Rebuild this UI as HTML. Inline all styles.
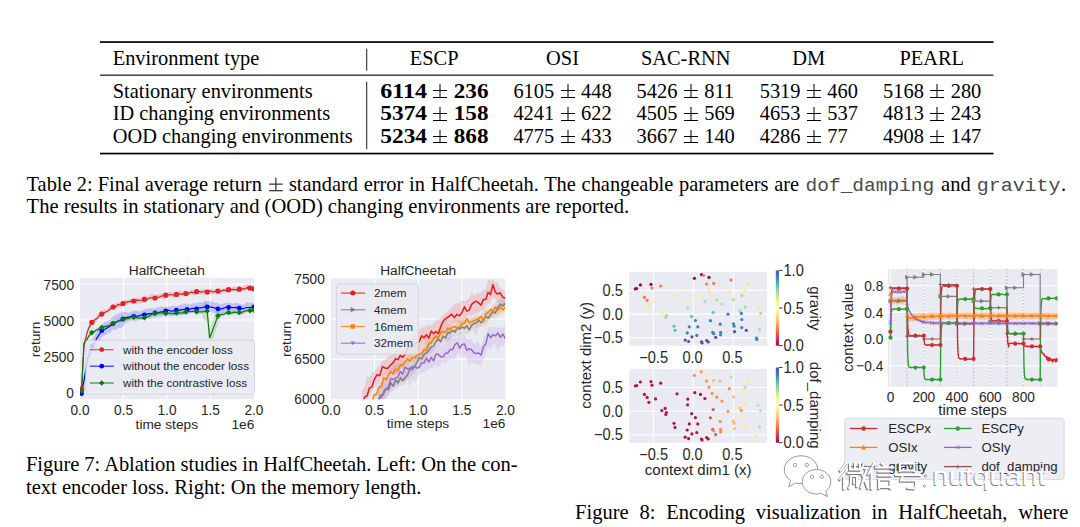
<!DOCTYPE html><html><head><meta charset="utf-8"><style>html,body{margin:0;padding:0;background:#fff;width:1080px;height:527px;overflow:hidden}svg{display:block}</style></head><body>
<svg width="1080" height="527" viewBox="0 0 1080 527">
<rect x="0" y="0" width="1080" height="527" fill="#fff"/>
<g font-family='"Liberation Serif", serif' font-size="20.4" fill="#000">
<rect x="100" y="41.2" width="893.5" height="1.7" fill="#000"/>
<rect x="100" y="74.6" width="893.5" height="1.1" fill="#000"/>
<rect x="100" y="152.7" width="893.5" height="1.7" fill="#000"/>
<rect x="366.3" y="48.7" width="0.9" height="22" fill="#000"/>
<rect x="366.3" y="81.7" width="0.9" height="67.6" fill="#000"/>
<text x="112.7" y="64.5">Environment type</text>
<text x="434.2" y="64.5" text-anchor="middle">ESCP</text>
<text x="562.5" y="64.5" text-anchor="middle">OSI</text>
<text x="685.7" y="64.5" text-anchor="middle">SAC-RNN</text>
<text x="808.6" y="64.5" text-anchor="middle">DM</text>
<text x="931.7" y="64.5" text-anchor="middle">PEARL</text>
<text x="112.7" y="97.5">Stationary environments</text>
<text x="112.7" y="119.9">ID changing environments</text>
<text x="112.7" y="142.6">OOD changing environments</text>
<text x="380.3" y="97.5" font-weight="bold" textLength="46.7" lengthAdjust="spacingAndGlyphs">6114</text>
<rect x="433" y="90" width="14" height="1" fill="#000"/>
<rect x="433" y="97" width="14" height="1" fill="#000"/>
<rect x="439.5" y="84" width="1" height="13" fill="#000"/>
<text x="453.8" y="97.5" font-weight="bold" textLength="34.7" lengthAdjust="spacingAndGlyphs">236</text>
<text x="380.3" y="119.9" font-weight="bold" textLength="46.7" lengthAdjust="spacingAndGlyphs">5374</text>
<rect x="433" y="113" width="14" height="1" fill="#000"/>
<rect x="433" y="120" width="14" height="1" fill="#000"/>
<rect x="439.5" y="107" width="1" height="13" fill="#000"/>
<text x="453.8" y="119.9" font-weight="bold" textLength="34.7" lengthAdjust="spacingAndGlyphs">158</text>
<text x="380.3" y="142.6" font-weight="bold" textLength="46.7" lengthAdjust="spacingAndGlyphs">5234</text>
<rect x="433" y="136" width="14" height="1" fill="#000"/>
<rect x="433" y="142" width="14" height="1" fill="#000"/>
<rect x="439.5" y="130" width="1" height="12" fill="#000"/>
<text x="453.8" y="142.6" font-weight="bold" textLength="34.7" lengthAdjust="spacingAndGlyphs">868</text>
<text x="513.4" y="97.5">6105</text>
<rect x="561" y="90" width="14" height="1" fill="#000"/>
<rect x="561" y="97" width="14" height="1" fill="#000"/>
<rect x="567.5" y="84" width="1" height="13" fill="#000"/>
<text x="581.0" y="97.5">448</text>
<text x="636.6" y="97.5">5426</text>
<rect x="684" y="90" width="14" height="1" fill="#000"/>
<rect x="684" y="97" width="14" height="1" fill="#000"/>
<rect x="690.5" y="84" width="1" height="13" fill="#000"/>
<text x="704.2" y="97.5">811</text>
<text x="759.7" y="97.5">5319</text>
<rect x="807" y="90" width="14" height="1" fill="#000"/>
<rect x="807" y="97" width="14" height="1" fill="#000"/>
<rect x="813.5" y="84" width="1" height="13" fill="#000"/>
<text x="827.3" y="97.5">460</text>
<text x="883.1" y="97.5">5168</text>
<rect x="930" y="90" width="14" height="1" fill="#000"/>
<rect x="930" y="97" width="14" height="1" fill="#000"/>
<rect x="936.5" y="84" width="1" height="13" fill="#000"/>
<text x="950.7" y="97.5">280</text>
<text x="513.4" y="119.9">4241</text>
<rect x="561" y="113" width="14" height="1" fill="#000"/>
<rect x="561" y="120" width="14" height="1" fill="#000"/>
<rect x="567.5" y="107" width="1" height="13" fill="#000"/>
<text x="581.0" y="119.9">622</text>
<text x="636.6" y="119.9">4505</text>
<rect x="684" y="113" width="14" height="1" fill="#000"/>
<rect x="684" y="120" width="14" height="1" fill="#000"/>
<rect x="690.5" y="107" width="1" height="13" fill="#000"/>
<text x="704.2" y="119.9">569</text>
<text x="759.7" y="119.9">4653</text>
<rect x="807" y="113" width="14" height="1" fill="#000"/>
<rect x="807" y="120" width="14" height="1" fill="#000"/>
<rect x="813.5" y="107" width="1" height="13" fill="#000"/>
<text x="827.3" y="119.9">537</text>
<text x="883.1" y="119.9">4813</text>
<rect x="930" y="113" width="14" height="1" fill="#000"/>
<rect x="930" y="120" width="14" height="1" fill="#000"/>
<rect x="936.5" y="107" width="1" height="13" fill="#000"/>
<text x="950.7" y="119.9">243</text>
<text x="513.4" y="142.6">4775</text>
<rect x="561" y="136" width="14" height="1" fill="#000"/>
<rect x="561" y="142" width="14" height="1" fill="#000"/>
<rect x="567.5" y="130" width="1" height="12" fill="#000"/>
<text x="581.0" y="142.6">433</text>
<text x="636.6" y="142.6">3667</text>
<rect x="684" y="136" width="14" height="1" fill="#000"/>
<rect x="684" y="142" width="14" height="1" fill="#000"/>
<rect x="690.5" y="130" width="1" height="12" fill="#000"/>
<text x="704.2" y="142.6">140</text>
<text x="759.7" y="142.6">4286</text>
<rect x="807" y="136" width="14" height="1" fill="#000"/>
<rect x="807" y="142" width="14" height="1" fill="#000"/>
<rect x="813.5" y="130" width="1" height="12" fill="#000"/>
<text x="827.3" y="142.6">77</text>
<text x="883.1" y="142.6">4908</text>
<rect x="930" y="136" width="14" height="1" fill="#000"/>
<rect x="930" y="142" width="14" height="1" fill="#000"/>
<rect x="936.5" y="130" width="1" height="12" fill="#000"/>
<text x="950.7" y="142.6">147</text>
</g>
<g font-family='"Liberation Serif", serif' font-size="20.55" fill="#000">
<text x="26.6" y="191.2" font-size="20.4">Table 2: Final average return</text>
<rect x="269.0" y="183.6" width="13.7" height="1.05" fill="#111"/><rect x="269.0" y="190.2" width="13.7" height="1.05" fill="#111"/><rect x="275.35" y="177.7" width="1.05" height="13.2" fill="#111"/>
<text x="288.9" y="191.2" font-size="20.4" word-spacing="0.64">standard error in HalfCheetah. The changeable parameters are</text>
<text x="805.6" y="191.2" font-family='"Liberation Mono", monospace' font-size="18" fill="#4a4a4a" textLength="128.6" lengthAdjust="spacingAndGlyphs">dof_damping</text>
<text x="941.1" y="191.2">and</text>
<text x="976.7" y="191.2" font-family='"Liberation Mono", monospace' font-size="18" fill="#4a4a4a" textLength="83.9" lengthAdjust="spacingAndGlyphs">gravity</text>
<text x="1061" y="191.2">.</text>
<text x="26.6" y="213.3">The results in stationary and (OOD) changing environments are reported.</text>
<text x="26.0" y="471.2" textLength="491.5" lengthAdjust="spacing">Figure 7: Ablation studies in HalfCheetah. Left: On the con-</text>
<text x="26.0" y="493.9">text encoder loss. Right: On the memory length.</text>
<text x="575.1" y="519" word-spacing="5.65">Figure 8: Encoding visualization in HalfCheetah, where</text>
</g>
<rect x="80" y="277.8" width="173.9" height="121.5" fill="#eaeaf2"/>
<line x1="80" x2="253.9" y1="284" y2="284" stroke="#fff" stroke-width="1.1"/>
<line x1="80" x2="253.9" y1="320" y2="320" stroke="#fff" stroke-width="1.1"/>
<line x1="80" x2="253.9" y1="356" y2="356" stroke="#fff" stroke-width="1.1"/>
<line x1="80" x2="253.9" y1="392" y2="392" stroke="#fff" stroke-width="1.1"/>
<line x1="123.5" x2="123.5" y1="277.8" y2="399.3" stroke="#fff" stroke-width="1.1"/>
<line x1="167" x2="167" y1="277.8" y2="399.3" stroke="#fff" stroke-width="1.1"/>
<line x1="210.4" x2="210.4" y1="277.8" y2="399.3" stroke="#fff" stroke-width="1.1"/>
<g font-family='"Liberation Sans", sans-serif' font-size="13.7" fill="#262626">
<text transform="translate(74.0,289.9) scale(1,1.1)" text-anchor="end">7500</text>
<text transform="translate(74.0,325.9) scale(1,1.1)" text-anchor="end">5000</text>
<text transform="translate(74.0,361.9) scale(1,1.1)" text-anchor="end">2500</text>
<text transform="translate(74.0,397.9) scale(1,1.1)" text-anchor="end">0</text>
<text transform="translate(80.0,414.9) scale(1,1.1)" text-anchor="middle">0.0</text>
<text transform="translate(123.5,414.9) scale(1,1.1)" text-anchor="middle">0.5</text>
<text transform="translate(167.0,414.9) scale(1,1.1)" text-anchor="middle">1.0</text>
<text transform="translate(210.4,414.9) scale(1,1.1)" text-anchor="middle">1.5</text>
<text transform="translate(253.9,414.9) scale(1,1.1)" text-anchor="middle">2.0</text>
<text x="166.8" y="275.1" text-anchor="middle">HalfCheetah</text>
<text x="166.8" y="428.5" text-anchor="middle">time steps</text>
<text x="254.3" y="428.5" text-anchor="end">1e6</text>
<text transform="translate(39.6,339.4) rotate(-90)" text-anchor="middle">return</text>
</g>
<svg x="80" y="277.8" width="173.9" height="121.5" viewBox="80 277.8 173.9 121.5" overflow="hidden">
<polygon points="81.6,386.9 82.2,375.9 82.8,364.1 83.4,353.3 84.0,341.8 85.0,338.0 86.0,333.7 87.0,331.4 88.0,327.7 89.0,324.8 89.9,324.4 90.8,320.9 91.8,319.9 94.3,318.3 96.8,315.6 99.2,312.5 101.7,310.6 104.5,309.4 107.4,308.8 110.2,305.8 113.1,304.1 115.6,303.5 118.0,302.7 120.5,302.1 123.0,300.5 125.7,299.9 128.3,299.8 131.0,298.6 133.7,299.7 136.4,297.5 139.1,297.8 141.7,297.5 144.4,295.6 147.1,296.4 149.7,294.8 152.3,294.1 155.0,295.5 157.7,294.3 160.3,293.8 163.0,293.5 165.7,292.8 168.4,292.0 171.1,291.9 173.7,292.6 176.4,292.7 178.8,290.4 181.2,291.6 183.5,290.7 185.9,291.1 188.6,291.3 191.2,289.6 193.9,290.4 196.6,288.9 199.2,289.8 201.9,289.5 204.5,289.0 207.2,289.4 209.9,288.5 212.6,289.6 215.2,289.1 217.9,288.7 220.6,288.7 223.2,288.4 225.9,288.2 228.6,288.0 231.3,288.0 233.9,286.3 236.6,287.4 239.3,288.2 242.0,286.9 244.6,285.5 247.2,284.2 249.9,285.6 250.9,285.0 251.9,286.1 252.9,285.7 253.9,286.5 253.9,291.1 252.9,291.1 251.9,291.8 250.9,290.6 249.9,291.4 247.2,289.8 244.6,291.1 242.0,290.9 239.3,291.6 236.6,291.8 233.9,291.2 231.3,291.8 228.6,292.5 225.9,292.2 223.2,292.2 220.6,294.8 217.9,293.9 215.2,294.0 212.6,294.3 209.9,294.4 207.2,293.7 204.5,294.7 201.9,294.0 199.2,294.8 196.6,293.9 193.9,296.3 191.2,294.0 188.6,295.8 185.9,297.1 183.5,295.5 181.2,295.8 178.8,296.8 176.4,297.5 173.7,298.5 171.1,296.4 168.4,297.0 165.7,298.6 163.0,299.0 160.3,298.9 157.7,299.4 155.0,299.7 152.3,300.8 149.7,299.7 147.1,301.3 144.4,301.0 141.7,303.6 139.1,303.5 136.4,303.7 133.7,303.2 131.0,303.9 128.3,304.5 125.7,304.6 123.0,304.8 120.5,307.4 118.0,307.2 115.6,308.5 113.1,309.9 110.2,311.1 107.4,313.3 104.5,314.8 101.7,316.3 99.2,318.0 96.8,320.7 94.3,323.5 91.8,325.3 90.8,326.2 89.9,328.5 89.0,330.9 88.0,332.1 87.0,336.6 86.0,340.7 85.0,343.2 84.0,347.2 83.4,359.2 82.8,368.3 82.2,381.0 81.6,392.0" fill="#dc2626" fill-opacity="0.18"/>
<polygon points="81.6,385.6 82.4,381.1 83.3,376.1 84.2,373.4 85.0,367.3 85.8,363.1 86.5,358.9 87.2,355.5 88.0,349.5 89.0,349.1 90.1,344.3 91.2,341.6 92.2,339.5 94.6,335.6 97.0,330.7 99.3,327.8 101.7,324.7 104.5,322.2 107.4,321.3 110.2,319.4 113.1,316.5 115.6,315.1 118.0,313.7 120.5,312.8 123.0,311.9 125.7,312.1 128.3,312.9 131.0,311.4 133.7,310.6 136.4,310.4 139.1,311.7 141.7,310.8 144.4,309.5 147.1,309.0 149.7,308.3 152.3,308.3 155.0,308.7 157.7,307.2 160.3,307.1 163.0,306.4 165.7,307.4 168.4,306.2 171.1,306.5 173.7,305.5 176.4,306.8 179.1,305.2 181.8,304.5 184.4,303.6 187.1,303.7 189.5,304.6 191.8,303.7 194.2,302.9 196.6,303.6 199.2,302.1 201.9,302.4 204.5,301.1 207.2,301.2 209.9,301.2 212.6,301.6 215.2,303.0 217.9,302.8 220.6,304.5 223.2,303.6 225.9,303.0 228.6,302.6 231.3,303.1 233.9,303.6 236.6,302.4 239.3,303.6 243.0,304.9 246.6,302.0 250.2,302.9 253.9,302.5 253.9,312.4 250.2,312.0 246.6,311.4 243.0,314.4 239.3,314.5 236.6,311.6 233.9,313.2 231.3,311.5 228.6,311.8 225.9,312.0 223.2,313.2 220.6,313.5 217.9,313.3 215.2,313.4 212.6,312.5 209.9,311.3 207.2,310.1 204.5,310.6 201.9,312.6 199.2,312.3 196.6,313.7 194.2,312.6 191.8,312.5 189.5,313.4 187.1,313.9 184.4,314.4 181.8,314.9 179.1,315.6 176.4,315.5 173.7,315.3 171.1,316.0 168.4,315.8 165.7,316.6 163.0,315.9 160.3,317.2 157.7,317.1 155.0,317.6 152.3,317.8 149.7,318.9 147.1,318.1 144.4,319.1 141.7,319.7 139.1,320.6 136.4,321.3 133.7,321.5 131.0,320.5 128.3,322.0 125.7,322.9 123.0,326.9 120.5,327.9 118.0,328.1 115.6,330.0 113.1,329.5 110.2,332.7 107.4,333.9 104.5,335.6 101.7,337.2 99.3,341.8 97.0,345.0 94.6,350.6 92.2,353.0 91.2,356.2 90.1,359.0 89.0,363.1 88.0,364.3 87.2,368.7 86.5,372.2 85.8,378.3 85.0,381.7 84.2,387.2 83.3,391.9 82.4,396.3 81.6,399.7" fill="#0000ff" fill-opacity="0.17"/>
<polygon points="81.6,389.8 82.2,376.8 82.8,364.8 83.3,353.3 83.9,342.3 85.9,339.2 87.8,336.1 89.8,332.6 91.8,331.4 94.3,330.1 96.8,327.4 99.2,327.5 101.7,325.2 104.5,325.3 107.4,324.6 110.2,322.9 113.1,322.5 115.6,320.4 118.0,318.9 120.5,317.6 123.0,317.8 125.7,317.0 128.3,316.5 131.0,315.3 133.7,314.9 136.4,315.7 139.1,316.6 141.7,315.6 144.4,316.6 147.1,315.6 149.7,313.6 152.3,312.9 155.0,311.9 157.7,311.9 160.3,310.8 163.0,310.9 165.7,311.2 168.4,311.8 171.1,311.7 173.7,311.6 176.4,311.0 178.8,311.1 181.2,310.6 183.5,310.3 185.9,310.2 188.6,309.4 191.2,310.2 193.9,309.3 196.6,309.4 199.2,310.0 201.9,309.7 204.5,302.5 207.2,302.5 207.8,309.3 208.4,316.1 209.0,321.8 209.6,329.5 211.7,324.3 213.8,318.2 215.8,312.9 217.9,306.2 220.6,313.1 223.2,312.6 225.9,311.6 228.6,311.2 231.3,311.0 233.9,310.0 236.6,311.1 239.3,310.8 242.0,310.5 244.6,309.2 247.2,308.6 249.9,308.7 250.9,309.7 251.9,308.6 252.9,308.2 253.9,308.1 253.9,311.9 252.9,311.1 251.9,312.1 250.9,313.0 249.9,312.1 247.2,312.1 244.6,312.5 242.0,313.9 239.3,315.0 236.6,314.7 233.9,313.9 231.3,315.2 228.6,314.1 225.9,315.0 223.2,316.2 220.6,316.7 217.9,325.0 215.8,330.9 213.8,336.7 211.7,342.0 209.6,347.0 209.0,339.2 208.4,333.3 207.8,326.6 207.2,320.5 204.5,321.0 201.9,314.1 199.2,314.1 196.6,313.1 193.9,312.6 191.2,313.4 188.6,313.2 185.9,313.9 183.5,314.7 181.2,314.2 178.8,314.4 176.4,315.1 173.7,315.8 171.1,315.7 168.4,314.7 165.7,314.8 163.0,314.3 160.3,314.4 157.7,314.7 155.0,315.7 152.3,316.1 149.7,317.6 147.1,318.4 144.4,320.4 141.7,319.5 139.1,319.3 136.4,319.3 133.7,318.5 131.0,319.3 128.3,320.3 125.7,320.5 123.0,321.7 120.5,322.2 118.0,323.2 115.6,323.7 113.1,325.3 110.2,326.3 107.4,327.8 104.5,327.9 101.7,328.5 99.2,330.3 96.8,331.4 94.3,333.8 91.8,335.4 89.8,336.3 87.8,339.6 85.9,343.7 83.9,345.0 83.3,356.8 82.8,368.3 82.2,380.4 81.6,392.9" fill="#008000" fill-opacity="0.15"/>
<polyline points="81.6,388.8 82.2,377.6 82.8,366.3 83.4,356.2 84.0,344.3 85.0,341.3 86.0,337.3 87.0,333.0 88.0,330.0 89.0,327.4 89.9,326.1 90.8,323.6 91.8,321.7 94.3,320.2 96.8,318.8 99.2,315.6 101.7,313.7 104.5,312.5 107.4,311.3 110.2,308.9 113.1,306.8 115.6,306.9 118.0,304.5 120.5,304.9 123.0,303.2 125.7,302.3 128.3,301.6 131.0,301.3 133.7,301.5 136.4,300.1 139.1,300.3 141.7,300.0 144.4,299.2 147.1,299.1 149.7,298.0 152.3,297.6 155.0,297.5 157.7,297.6 160.3,296.5 163.0,295.6 165.7,295.3 168.4,294.9 171.1,294.5 173.7,295.1 176.4,294.7 178.8,293.8 181.2,294.1 183.5,293.8 185.9,294.1 188.6,293.4 191.2,292.2 193.9,292.8 196.6,291.0 199.2,291.6 201.9,292.2 204.5,291.3 207.2,292.0 209.9,291.0 212.6,291.8 215.2,291.7 217.9,291.2 220.6,291.4 223.2,290.1 225.9,290.4 228.6,289.9 231.3,289.7 233.9,289.4 236.6,289.9 239.3,289.9 242.0,288.9 244.6,288.9 247.2,287.6 249.9,288.3 250.9,288.4 251.9,289.2 252.9,289.1 253.9,288.8" fill="none" stroke="#dc2626" stroke-width="1.2"/>
<polyline points="81.6,393.6 82.4,388.6 83.3,384.1 84.2,379.9 85.0,374.2 85.8,370.7 86.5,366.0 87.2,361.6 88.0,357.3 89.0,355.4 90.1,351.4 91.2,348.6 92.2,345.8 94.6,342.8 97.0,337.7 99.3,334.4 101.7,330.8 104.5,329.5 107.4,327.7 110.2,326.0 113.1,323.2 115.6,322.3 118.0,321.0 120.5,320.7 123.0,319.6 125.7,317.7 128.3,317.2 131.0,316.7 133.7,316.1 136.4,316.1 139.1,315.8 141.7,314.8 144.4,314.0 147.1,314.2 149.7,313.6 152.3,313.5 155.0,313.6 157.7,312.7 160.3,312.0 163.0,311.7 165.7,311.3 168.4,310.1 171.1,311.2 173.7,310.8 176.4,310.7 179.1,310.4 181.8,309.6 184.4,309.4 187.1,308.8 189.5,309.5 191.8,308.4 194.2,308.3 196.6,308.4 199.2,307.9 201.9,307.7 204.5,306.8 207.2,306.2 209.9,306.9 212.6,307.3 215.2,308.2 217.9,308.1 220.6,309.1 223.2,308.4 225.9,307.3 228.6,307.1 231.3,307.4 233.9,307.6 236.6,307.4 239.3,308.8 243.0,308.7 246.6,307.5 250.2,307.3 253.9,307.0" fill="none" stroke="#0000ff" stroke-width="1.2"/>
<polyline points="81.6,391.0 82.2,378.7 82.8,366.9 83.3,355.4 83.9,343.5 85.9,341.4 87.8,337.8 89.8,334.8 91.8,333.1 94.3,331.4 96.8,329.7 99.2,328.9 101.7,327.0 104.5,326.6 107.4,326.2 110.2,325.0 113.1,323.8 115.6,322.2 118.0,321.3 120.5,320.0 123.0,319.6 125.7,318.8 128.3,318.6 131.0,317.5 133.7,316.9 136.4,317.7 139.1,318.0 141.7,318.0 144.4,318.1 147.1,317.0 149.7,315.8 152.3,314.1 155.0,313.4 157.7,313.2 160.3,312.8 163.0,312.8 165.7,313.1 168.4,313.0 171.1,313.4 173.7,313.6 176.4,312.8 178.8,313.1 181.2,312.9 183.5,312.6 185.9,311.6 188.6,311.5 191.2,311.5 193.9,311.4 196.6,311.4 199.2,311.7 201.9,311.9 204.5,311.6 207.2,311.0 207.8,317.9 208.4,324.8 209.0,330.6 209.6,338.0 211.7,332.8 213.8,327.1 215.8,321.6 217.9,315.8 220.6,314.6 223.2,314.5 225.9,313.1 228.6,312.9 231.3,313.1 233.9,312.4 236.6,312.4 239.3,313.0 242.0,312.3 244.6,311.2 247.2,310.6 249.9,310.2 250.9,311.0 251.9,310.7 252.9,309.8 253.9,310.1" fill="none" stroke="#008000" stroke-width="1.2"/>
<circle cx="81.6" cy="388.8" r="2.6" fill="#dc2626"/>
<circle cx="91.8" cy="322.4" r="2.6" fill="#dc2626"/>
<circle cx="101.7" cy="314.1" r="2.6" fill="#dc2626"/>
<circle cx="113.1" cy="307" r="2.6" fill="#dc2626"/>
<circle cx="123" cy="303.5" r="2.6" fill="#dc2626"/>
<circle cx="133.7" cy="301" r="2.6" fill="#dc2626"/>
<circle cx="144.4" cy="299.4" r="2.6" fill="#dc2626"/>
<circle cx="155" cy="298" r="2.6" fill="#dc2626"/>
<circle cx="165.7" cy="295.2" r="2.6" fill="#dc2626"/>
<circle cx="176.4" cy="294.4" r="2.6" fill="#dc2626"/>
<circle cx="185.9" cy="293.5" r="2.6" fill="#dc2626"/>
<circle cx="196.6" cy="291.6" r="2.6" fill="#dc2626"/>
<circle cx="207.2" cy="292" r="2.6" fill="#dc2626"/>
<circle cx="217.9" cy="291.1" r="2.6" fill="#dc2626"/>
<circle cx="228.6" cy="289.7" r="2.6" fill="#dc2626"/>
<circle cx="239.3" cy="289.2" r="2.6" fill="#dc2626"/>
<circle cx="249.9" cy="288" r="2.6" fill="#dc2626"/>
<circle cx="253.9" cy="288.8" r="2.6" fill="#dc2626"/>
<circle cx="81.6" cy="393.6" r="2.4" fill="#0000ff"/>
<circle cx="92.2" cy="346" r="2.4" fill="#0000ff"/>
<circle cx="101.7" cy="330.7" r="2.4" fill="#0000ff"/>
<circle cx="113.1" cy="323.6" r="2.4" fill="#0000ff"/>
<circle cx="123" cy="318.9" r="2.4" fill="#0000ff"/>
<circle cx="133.7" cy="316.5" r="2.4" fill="#0000ff"/>
<circle cx="144.4" cy="314.8" r="2.4" fill="#0000ff"/>
<circle cx="155" cy="312.9" r="2.4" fill="#0000ff"/>
<circle cx="165.7" cy="311" r="2.4" fill="#0000ff"/>
<circle cx="176.4" cy="310.1" r="2.4" fill="#0000ff"/>
<circle cx="187.1" cy="309.4" r="2.4" fill="#0000ff"/>
<circle cx="196.6" cy="308.9" r="2.4" fill="#0000ff"/>
<circle cx="207.2" cy="307" r="2.4" fill="#0000ff"/>
<circle cx="217.9" cy="308.9" r="2.4" fill="#0000ff"/>
<circle cx="228.6" cy="307.5" r="2.4" fill="#0000ff"/>
<circle cx="239.3" cy="308.2" r="2.4" fill="#0000ff"/>
<circle cx="253.9" cy="307" r="2.4" fill="#0000ff"/>
<rect x="79.6" y="389" width="4" height="4" transform="rotate(45 81.6 391)" fill="#008000"/>
<rect x="89.8" y="330.6" width="4" height="4" transform="rotate(45 91.8 332.6)" fill="#008000"/>
<rect x="99.7" y="325.6" width="4" height="4" transform="rotate(45 101.7 327.6)" fill="#008000"/>
<rect x="111.1" y="321.6" width="4" height="4" transform="rotate(45 113.1 323.6)" fill="#008000"/>
<rect x="121" y="317.3" width="4" height="4" transform="rotate(45 123 319.3)" fill="#008000"/>
<rect x="131.7" y="315.2" width="4" height="4" transform="rotate(45 133.7 317.2)" fill="#008000"/>
<rect x="142.4" y="315.7" width="4" height="4" transform="rotate(45 144.4 317.7)" fill="#008000"/>
<rect x="153" y="311.4" width="4" height="4" transform="rotate(45 155 313.4)" fill="#008000"/>
<rect x="163.7" y="311.4" width="4" height="4" transform="rotate(45 165.7 313.4)" fill="#008000"/>
<rect x="174.4" y="310.9" width="4" height="4" transform="rotate(45 176.4 312.9)" fill="#008000"/>
<rect x="183.9" y="309.8" width="4" height="4" transform="rotate(45 185.9 311.8)" fill="#008000"/>
<rect x="194.6" y="309.8" width="4" height="4" transform="rotate(45 196.6 311.8)" fill="#008000"/>
<rect x="205.2" y="309" width="4" height="4" transform="rotate(45 207.2 311)" fill="#008000"/>
<rect x="215.9" y="313.8" width="4" height="4" transform="rotate(45 217.9 315.8)" fill="#008000"/>
<rect x="226.6" y="310.5" width="4" height="4" transform="rotate(45 228.6 312.5)" fill="#008000"/>
<rect x="237.3" y="310.5" width="4" height="4" transform="rotate(45 239.3 312.5)" fill="#008000"/>
<rect x="247.9" y="308.6" width="4" height="4" transform="rotate(45 249.9 310.6)" fill="#008000"/>
<rect x="251.9" y="308.1" width="4" height="4" transform="rotate(45 253.9 310.1)" fill="#008000"/>
</svg>
<rect x="85.8" y="340.3" width="168.7" height="53.9" rx="2.5" fill="#eaeaf2" fill-opacity="0.85" stroke="#cfcfd6" stroke-width="0.8"/>
<g font-family='"Liberation Sans", sans-serif' font-size="11.7" fill="#262626">
<line x1="89.7" x2="113.8" y1="349.7" y2="349.7" stroke="#dc2626" stroke-width="1.2" stroke-opacity="0.8"/>
<circle cx="101.7" cy="349.7" r="2.4" fill="#dc2626"/>
<text x="123" y="353.9">with the encoder loss</text>
<line x1="89.7" x2="113.8" y1="366.2" y2="366.2" stroke="#0000ff" stroke-width="1.2" stroke-opacity="0.8"/>
<circle cx="101.7" cy="366.2" r="2.4" fill="#0000ff"/>
<text x="123" y="370.4">without the encoder loss</text>
<line x1="89.7" x2="113.8" y1="383" y2="383" stroke="#008000" stroke-width="1.2" stroke-opacity="0.8"/>
<rect x="99.7" y="381" width="4" height="4" transform="rotate(45 101.7 383)" fill="#008000"/>
<text x="123" y="387.2">with the contrastive loss</text>
</g>
<rect x="331" y="278.5" width="174.4" height="120.7" fill="#eaeaf2"/>
<line x1="331" x2="505.4" y1="319" y2="319" stroke="#fff" stroke-width="1.1"/>
<line x1="331" x2="505.4" y1="359.2" y2="359.2" stroke="#fff" stroke-width="1.1"/>
<line x1="374.6" x2="374.6" y1="278.5" y2="399.2" stroke="#fff" stroke-width="1.1"/>
<line x1="418.2" x2="418.2" y1="278.5" y2="399.2" stroke="#fff" stroke-width="1.1"/>
<line x1="461.8" x2="461.8" y1="278.5" y2="399.2" stroke="#fff" stroke-width="1.1"/>
<g font-family='"Liberation Sans", sans-serif' font-size="13.7" fill="#262626">
<text transform="translate(324.8,283.6) scale(1,1.1)" text-anchor="end">7500</text>
<text transform="translate(324.8,323.9) scale(1,1.1)" text-anchor="end">7000</text>
<text transform="translate(324.8,364.1) scale(1,1.1)" text-anchor="end">6500</text>
<text transform="translate(324.8,404.3) scale(1,1.1)" text-anchor="end">6000</text>
<text transform="translate(331.0,414.8) scale(1,1.1)" text-anchor="middle">0.0</text>
<text transform="translate(374.6,414.8) scale(1,1.1)" text-anchor="middle">0.5</text>
<text transform="translate(418.2,414.8) scale(1,1.1)" text-anchor="middle">1.0</text>
<text transform="translate(461.8,414.8) scale(1,1.1)" text-anchor="middle">1.5</text>
<text transform="translate(505.4,414.8) scale(1,1.1)" text-anchor="middle">2.0</text>
<text x="418.2" y="275.1" text-anchor="middle">HalfCheetah</text>
<text x="418" y="428.3" text-anchor="middle">time steps</text>
<text x="505.4" y="428.3" text-anchor="end">1e6</text>
<text transform="translate(291,339.2) rotate(-90)" text-anchor="middle">return</text>
</g>
<svg x="331" y="278.5" width="174.4" height="120.7" viewBox="331 278.5 174.4 120.7" overflow="hidden">
<polygon points="362.0,391.0 364.7,386.8 367.1,375.2 369.4,377.8 371.8,373.1 374.2,371.5 377.0,367.8 379.7,365.3 382.5,360.6 385.2,360.0 387.9,356.2 390.5,355.7 393.2,354.6 395.6,350.9 397.9,349.9 400.3,348.1 402.7,349.2 405.5,343.9 408.2,343.1 411.0,339.1 413.7,336.0 416.4,332.9 419.0,330.3 421.7,327.8 424.1,326.4 426.4,326.5 428.8,324.5 431.2,326.0 433.6,322.4 435.9,320.7 438.3,319.6 441.0,317.8 443.6,315.3 446.3,311.7 449.0,310.5 451.7,307.2 454.4,303.9 457.0,303.3 459.7,302.8 462.1,300.2 464.5,301.3 466.8,300.0 469.2,298.1 471.6,292.0 474.0,296.3 476.3,293.7 478.7,293.2 481.0,292.3 483.4,290.1 485.8,289.1 488.1,278.8 490.5,281.7 492.9,278.6 495.3,283.7 497.6,281.2 500.0,288.2 502.7,289.2 505.4,291.1 505.4,306.1 502.7,305.6 500.0,306.9 497.6,301.8 495.3,299.1 492.9,296.8 490.5,302.8 488.1,304.2 485.8,305.6 483.4,310.4 481.0,310.4 478.7,313.1 476.3,311.7 474.0,314.1 471.6,315.4 469.2,315.1 466.8,316.5 464.5,319.5 462.1,325.9 459.7,322.6 457.0,323.5 454.4,322.3 451.7,323.4 449.0,333.9 446.3,327.7 443.6,331.9 441.0,335.8 438.3,335.5 435.9,338.7 433.6,341.1 431.2,343.6 428.8,350.8 426.4,344.1 424.1,344.5 421.7,345.8 419.0,350.4 416.4,360.4 413.7,354.6 411.0,357.2 408.2,359.8 405.5,361.9 402.7,364.0 400.3,367.0 397.9,375.2 395.6,372.3 393.2,372.1 390.5,372.4 387.9,373.2 385.2,374.7 382.5,376.6 379.7,380.6 377.0,385.3 374.2,387.9 371.8,391.3 369.4,397.1 367.1,402.1 364.7,412.3 362.0,409.4" fill="#e41a1c" fill-opacity="0.15"/>
<polygon points="377.0,396.8 379.0,391.3 381.4,390.0 383.8,382.6 386.1,383.9 388.5,381.9 390.9,380.8 393.3,378.0 395.6,376.9 398.0,376.3 400.4,373.0 402.7,372.9 405.1,371.7 407.5,362.0 409.9,364.4 412.2,363.3 414.6,350.9 417.0,356.6 419.4,352.9 421.8,349.9 424.1,346.6 426.5,344.2 428.9,342.0 431.2,339.3 433.6,337.7 435.9,334.0 438.3,333.1 440.7,326.5 443.1,331.6 445.4,329.2 447.8,328.3 450.2,327.2 452.6,326.1 455.0,325.9 457.3,323.7 459.7,320.9 462.1,321.2 464.5,319.6 466.9,320.7 469.2,318.6 471.6,318.8 474.0,317.5 476.4,317.3 478.7,316.4 481.1,313.9 483.4,311.8 485.8,310.6 488.2,310.7 490.6,307.9 492.9,304.4 495.3,302.3 497.8,300.5 500.4,298.6 502.9,297.1 505.4,296.7 505.4,307.9 502.9,310.2 500.4,311.3 497.8,314.4 495.3,314.8 492.9,317.3 490.6,318.7 488.2,320.6 485.8,323.0 483.4,324.2 481.1,327.3 478.7,327.7 476.4,335.4 474.0,330.4 471.6,330.5 469.2,332.9 466.9,333.8 464.5,333.4 462.1,332.7 459.7,334.8 457.3,335.2 455.0,336.9 452.6,337.1 450.2,340.2 447.8,341.9 445.4,342.2 443.1,343.2 440.7,345.0 438.3,345.4 435.9,346.9 433.6,350.5 431.2,352.9 428.9,353.8 426.5,357.7 424.1,361.0 421.8,363.0 419.4,367.3 417.0,368.1 414.6,372.5 412.2,374.0 409.9,377.5 407.5,380.2 405.1,384.7 402.7,385.0 400.4,385.6 398.0,387.3 395.6,388.7 393.3,390.4 390.9,391.9 388.5,396.0 386.1,396.9 383.8,401.1 381.4,410.9 379.0,405.1 377.0,415.6" fill="#7f7f7f" fill-opacity="0.15"/>
<polygon points="372.0,396.1 374.2,390.7 376.6,387.5 378.9,382.7 381.3,379.6 383.7,373.2 386.1,371.2 388.5,369.5 390.8,369.3 393.2,365.8 395.6,364.1 398.0,361.8 400.4,350.9 402.7,357.2 405.1,356.8 407.5,354.2 409.9,353.5 412.2,352.4 414.6,350.1 417.0,340.3 419.3,348.5 421.7,346.1 424.1,344.6 426.4,333.9 428.8,336.0 431.2,334.6 433.6,331.9 436.0,331.0 438.3,330.1 440.7,327.1 443.1,317.7 445.5,317.7 447.8,324.0 450.2,323.6 452.5,322.4 454.9,314.9 457.3,318.9 459.7,319.3 462.0,318.2 464.4,317.9 466.8,318.2 469.2,316.0 471.6,317.2 473.9,316.4 476.3,310.7 478.7,316.0 481.1,314.8 483.4,313.9 485.8,305.2 488.2,310.9 490.6,309.6 492.9,307.4 495.3,305.9 497.7,305.2 500.3,303.1 502.8,303.1 505.4,301.6 505.4,312.0 502.8,313.4 500.3,315.2 497.7,315.5 495.3,319.9 492.9,317.5 490.6,319.4 488.2,319.6 485.8,330.5 483.4,323.2 481.1,326.4 478.7,326.2 476.3,327.9 473.9,326.7 471.6,328.2 469.2,327.1 466.8,328.4 464.4,328.9 462.0,329.2 459.7,329.0 457.3,331.6 454.9,330.3 452.5,331.7 450.2,332.9 447.8,335.6 445.5,337.3 443.1,337.8 440.7,339.8 438.3,339.1 436.0,340.8 433.6,344.2 431.2,345.6 428.8,346.7 426.4,351.9 424.1,353.5 421.7,358.3 419.3,359.4 417.0,360.8 414.6,360.7 412.2,362.6 409.9,362.4 407.5,364.9 405.1,366.1 402.7,369.0 400.4,370.4 398.0,373.9 395.6,375.2 393.2,378.2 390.8,379.2 388.5,381.4 386.1,383.1 383.7,392.9 381.3,388.7 378.9,394.7 376.6,399.1 374.2,403.4 372.0,408.2" fill="#ff7f00" fill-opacity="0.15"/>
<polygon points="378.0,394.0 380.2,382.4 382.9,381.7 385.5,379.6 388.2,372.8 390.9,368.4 393.3,366.0 395.6,357.5 398.0,364.9 400.3,363.4 402.7,362.1 405.1,361.3 407.5,360.0 409.8,358.8 412.2,356.9 414.6,358.0 417.0,356.3 419.4,352.6 421.7,353.9 424.1,350.0 426.5,344.6 428.9,347.5 431.2,346.4 433.6,349.1 435.9,346.7 438.3,344.4 440.7,346.1 443.1,344.8 445.5,342.9 447.8,332.7 450.2,331.7 452.6,338.7 455.0,337.4 457.4,338.0 459.7,331.8 462.1,332.6 464.5,334.8 466.9,339.3 469.2,339.5 471.6,339.1 474.0,344.3 476.4,341.7 478.7,342.6 481.1,346.3 483.5,337.8 485.8,334.6 488.2,327.7 490.6,326.9 492.9,326.7 495.3,326.8 497.8,327.4 500.4,327.8 502.9,328.0 505.4,324.8 505.4,345.3 502.9,345.7 500.4,345.8 497.8,351.0 495.3,343.4 492.9,344.7 490.6,349.4 488.2,346.9 485.8,352.3 483.5,359.2 481.1,366.6 478.7,364.4 476.4,364.6 474.0,364.0 471.6,360.6 469.2,366.0 466.9,359.1 464.5,354.9 462.1,358.6 459.7,355.0 457.4,354.6 455.0,359.5 452.6,358.7 450.2,360.1 447.8,360.0 445.5,364.2 443.1,361.8 440.7,363.5 438.3,367.8 435.9,364.8 433.6,366.7 431.2,367.7 428.9,369.3 426.5,370.6 424.1,372.5 421.7,372.6 419.4,374.7 417.0,377.9 414.6,382.5 412.2,379.7 409.8,386.9 407.5,378.2 405.1,381.6 402.7,380.5 400.3,382.5 398.0,385.6 395.6,386.0 393.3,386.0 390.9,389.2 388.2,394.1 385.5,399.6 382.9,404.6 380.2,409.3 378.0,413.5" fill="#9a68c8" fill-opacity="0.15"/>
<polyline points="362.0,403.7 364.7,397.2 367.1,395.8 369.4,388.2 371.8,386.9 374.2,379.7 377.0,374.7 379.7,375.8 382.5,366.6 385.2,368.2 387.9,368.2 390.5,365.2 393.2,362.6 395.6,358.6 397.9,359.8 400.3,355.4 402.7,357.3 405.5,353.5 408.2,347.9 411.0,346.4 413.7,344.8 416.4,343.2 419.0,341.9 421.7,335.9 424.1,337.8 426.4,334.8 428.8,338.0 431.2,331.1 433.6,333.6 435.9,331.5 438.3,333.4 441.0,325.7 443.6,320.5 446.3,318.4 449.0,316.3 451.7,314.2 454.4,317.6 457.0,314.3 459.7,315.8 462.1,312.1 464.5,306.8 466.8,311.1 469.2,310.1 471.6,304.3 474.0,302.4 476.3,301.2 478.7,302.9 481.0,305.2 483.4,299.4 485.8,299.4 488.1,292.3 490.5,294.4 492.9,284.8 495.3,292.2 497.6,294.1 500.0,292.7 502.7,297.2 505.4,297.9" fill="none" stroke="#e41a1c" stroke-width="1.5" stroke-linejoin="round"/>
<polyline points="377.0,405.1 379.0,398.1 381.4,397.5 383.8,391.5 386.1,388.5 388.5,389.8 390.9,383.0 393.3,386.2 395.6,380.0 398.0,382.9 400.4,377.8 402.7,380.7 405.1,377.8 407.5,374.9 409.9,368.9 412.2,366.9 414.6,366.1 417.0,362.4 419.4,357.6 421.8,359.0 424.1,354.4 426.5,352.9 428.9,350.4 431.2,347.2 433.6,346.1 435.9,341.8 438.3,338.9 440.7,341.7 443.1,336.0 445.4,338.2 447.8,332.5 450.2,333.0 452.6,330.3 455.0,332.1 457.3,327.7 459.7,329.0 462.1,327.1 464.5,328.3 466.9,325.9 469.2,329.8 471.6,325.3 474.0,323.4 476.4,322.7 478.7,320.1 481.1,322.8 483.4,320.6 485.8,316.3 488.2,318.2 490.6,314.8 492.9,311.6 495.3,313.0 497.8,307.1 500.4,304.3 502.9,305.9 505.4,303.2" fill="none" stroke="#7f7f7f" stroke-width="1.5" stroke-linejoin="round"/>
<polyline points="372.0,402.6 374.2,394.7 376.6,394.2 378.9,387.3 381.3,386.7 383.7,377.5 386.1,379.9 388.5,374.7 390.8,371.6 393.2,374.1 395.6,369.0 398.0,370.6 400.4,365.1 402.7,365.7 405.1,362.1 407.5,358.9 409.9,361.3 412.2,357.3 414.6,358.0 417.0,355.3 419.3,354.0 421.7,353.8 424.1,349.4 426.4,350.4 428.8,343.0 431.2,343.1 433.6,338.5 436.0,336.1 438.3,338.4 440.7,332.0 443.1,331.7 445.5,332.2 447.8,328.0 450.2,329.7 452.5,327.1 454.9,326.5 457.3,328.7 459.7,326.7 462.0,324.1 464.4,323.1 466.8,318.6 469.2,322.8 471.6,321.6 473.9,320.7 476.3,319.6 478.7,318.6 481.1,316.6 483.4,320.8 485.8,314.2 488.2,312.4 490.6,309.5 492.9,310.9 495.3,307.2 497.7,310.4 500.3,307.0 502.8,310.0 505.4,307.3" fill="none" stroke="#ff7f00" stroke-width="1.5" stroke-linejoin="round"/>
<polyline points="378.0,405.6 380.2,395.1 382.9,395.5 385.5,389.2 388.2,386.9 390.9,378.6 393.3,379.3 395.6,378.1 398.0,376.8 400.3,371.5 402.7,374.0 405.1,367.0 407.5,368.9 409.8,368.1 412.2,369.8 414.6,366.5 417.0,368.2 419.4,367.1 421.7,363.0 424.1,363.1 426.5,358.1 428.9,362.1 431.2,357.3 433.6,360.9 435.9,354.3 438.3,354.3 440.7,356.8 443.1,356.8 445.5,353.2 447.8,353.0 450.2,349.6 452.6,349.6 455.0,344.5 457.4,342.9 459.7,348.0 462.1,344.6 464.5,344.1 466.9,350.5 469.2,348.7 471.6,349.8 474.0,352.9 476.4,353.6 478.7,353.0 481.1,355.2 483.5,346.2 485.8,343.9 488.2,333.7 490.6,337.8 492.9,334.6 495.3,335.9 497.8,333.0 500.4,337.4 502.9,334.0 505.4,338.9" fill="none" stroke="#9a68c8" stroke-width="1.5" stroke-linejoin="round"/>
</svg>
<rect x="336.6" y="284.2" width="81.8" height="70" rx="2.5" fill="#eaeaf2" fill-opacity="0.85" stroke="#cfcfd6" stroke-width="0.8"/>
<g font-family='"Liberation Sans", sans-serif' font-size="11.7" fill="#262626">
<line x1="340.9" x2="365.1" y1="293.1" y2="293.1" stroke="#e41a1c" stroke-width="1.2" stroke-opacity="0.85"/>
<circle cx="352.8" cy="293.1" r="2.5" fill="#e41a1c"/>
<text x="373.9" y="297.3">2mem</text>
<line x1="340.9" x2="365.1" y1="309.8" y2="309.8" stroke="#7f7f7f" stroke-width="1.2" stroke-opacity="0.85"/>
<polygon points="350.6,307.0 350.6,312.6 355.6,309.8" fill="#7f7f7f"/>
<text x="373.9" y="314.0">4mem</text>
<line x1="340.9" x2="365.1" y1="326.5" y2="326.5" stroke="#ff7f00" stroke-width="1.2" stroke-opacity="0.85"/>
<rect x="350.6" y="324.3" width="4.4" height="4.4" fill="#ff7f00"/>
<text x="373.9" y="330.7">16mem</text>
<line x1="340.9" x2="365.1" y1="343.2" y2="343.2" stroke="#9a68c8" stroke-width="1.2" stroke-opacity="0.85"/>
<polygon points="350.6,341.4 355,341.4 352.8,345.2" fill="#9a68c8"/>
<text x="373.9" y="347.4">32mem</text>
</g>
<defs><linearGradient id="spec" x1="0" y1="0" x2="0" y2="1"><stop offset="0.0" stop-color="#5e4fa2"/><stop offset="0.1" stop-color="#3288bd"/><stop offset="0.2" stop-color="#66c2a5"/><stop offset="0.3" stop-color="#abdda4"/><stop offset="0.4" stop-color="#e6f598"/><stop offset="0.5" stop-color="#ffffbf"/><stop offset="0.6" stop-color="#fee08b"/><stop offset="0.7" stop-color="#fdae61"/><stop offset="0.8" stop-color="#f46d43"/><stop offset="0.9" stop-color="#d53e4f"/><stop offset="1.0" stop-color="#9e0142"/></linearGradient></defs>
<rect x="629.2" y="271.8" width="137.9" height="74.0" fill="#eaeaf2"/>
<line x1="629.2" x2="767.1" y1="290.4" y2="290.4" stroke="#fff" stroke-width="1.1"/>
<line x1="629.2" x2="767.1" y1="314.1" y2="314.1" stroke="#fff" stroke-width="1.1"/>
<line x1="629.2" x2="767.1" y1="337.6" y2="337.6" stroke="#fff" stroke-width="1.1"/>
<line x1="653.4" x2="653.4" y1="271.8" y2="345.8" stroke="#fff" stroke-width="1.1"/>
<line x1="693.4" x2="693.4" y1="271.8" y2="345.8" stroke="#fff" stroke-width="1.1"/>
<line x1="733.4" x2="733.4" y1="271.8" y2="345.8" stroke="#fff" stroke-width="1.1"/>
<circle cx="635.3" cy="288.9" r="1.6" fill="#9e0142"/>
<circle cx="636.7" cy="288.5" r="1.6" fill="#9e0142"/>
<circle cx="640.4" cy="284.9" r="1.6" fill="#9e0142"/>
<circle cx="651" cy="284.4" r="1.6" fill="#9e0142"/>
<circle cx="652" cy="288.1" r="1.6" fill="#f67a49"/>
<circle cx="660.7" cy="286.1" r="1.6" fill="#f67a49"/>
<circle cx="644.4" cy="297.3" r="1.6" fill="#f67a49"/>
<circle cx="647.1" cy="300.3" r="1.6" fill="#f67a49"/>
<circle cx="648.9" cy="305.2" r="1.6" fill="#fee695"/>
<circle cx="655.6" cy="301.8" r="1.6" fill="#fee695"/>
<circle cx="661.8" cy="313.4" r="1.6" fill="#ebf7a0"/>
<circle cx="665.2" cy="311.3" r="1.6" fill="#ebf7a0"/>
<circle cx="666.4" cy="315.4" r="1.6" fill="#abdda4"/>
<circle cx="665.8" cy="317.4" r="1.6" fill="#abdda4"/>
<circle cx="677" cy="296.7" r="1.6" fill="#fee695"/>
<circle cx="674" cy="326.2" r="1.6" fill="#66c2a5"/>
<circle cx="675" cy="330.3" r="1.6" fill="#66c2a5"/>
<circle cx="685.2" cy="340.1" r="1.6" fill="#5e4fa2"/>
<circle cx="688.6" cy="341.5" r="1.6" fill="#5e4fa2"/>
<circle cx="687.2" cy="332.9" r="1.6" fill="#3288bd"/>
<circle cx="689.3" cy="326.8" r="1.6" fill="#3288bd"/>
<circle cx="687.6" cy="307.7" r="1.6" fill="#abdda4"/>
<circle cx="687.8" cy="302.0" r="1.6" fill="#ebf7a0"/>
<circle cx="691.7" cy="316.6" r="1.6" fill="#66c2a5"/>
<circle cx="691.9" cy="336.8" r="1.6" fill="#5e4fa2"/>
<circle cx="694.4" cy="278.3" r="1.6" fill="#9e0142"/>
<circle cx="694.8" cy="295.6" r="1.6" fill="#fee695"/>
<circle cx="695.4" cy="320.5" r="1.6" fill="#3288bd"/>
<circle cx="696.8" cy="335.4" r="1.6" fill="#3288bd"/>
<circle cx="697.8" cy="326.8" r="1.6" fill="#3288bd"/>
<circle cx="700.5" cy="297.3" r="1.6" fill="#ebf7a0"/>
<circle cx="701.5" cy="274.7" r="1.6" fill="#9e0142"/>
<circle cx="703.5" cy="275.3" r="1.6" fill="#f67a49"/>
<circle cx="701.5" cy="341.9" r="1.6" fill="#5e4fa2"/>
<circle cx="702.1" cy="342.9" r="1.6" fill="#5e4fa2"/>
<circle cx="704.9" cy="301.4" r="1.6" fill="#abdda4"/>
<circle cx="706.6" cy="284.0" r="1.6" fill="#f67a49"/>
<circle cx="706.6" cy="340.5" r="1.6" fill="#5e4fa2"/>
<circle cx="708.2" cy="341.9" r="1.6" fill="#5e4fa2"/>
<circle cx="709" cy="277.3" r="1.6" fill="#9e0142"/>
<circle cx="709" cy="290.1" r="1.6" fill="#fee695"/>
<circle cx="710.4" cy="320.7" r="1.6" fill="#3288bd"/>
<circle cx="712.1" cy="296.3" r="1.6" fill="#fee695"/>
<circle cx="712.7" cy="332.3" r="1.6" fill="#3288bd"/>
<circle cx="713.1" cy="312.4" r="1.6" fill="#66c2a5"/>
<circle cx="713.7" cy="333.7" r="1.6" fill="#3288bd"/>
<circle cx="713.7" cy="283.4" r="1.6" fill="#f67a49"/>
<circle cx="715.7" cy="337.4" r="1.6" fill="#5e4fa2"/>
<circle cx="716.8" cy="300.1" r="1.6" fill="#abdda4"/>
<circle cx="719.8" cy="284.0" r="1.6" fill="#fee695"/>
<circle cx="720.2" cy="324.2" r="1.6" fill="#3288bd"/>
<circle cx="720.6" cy="332.3" r="1.6" fill="#3288bd"/>
<circle cx="720.6" cy="334.8" r="1.6" fill="#3288bd"/>
<circle cx="721.9" cy="304.0" r="1.6" fill="#abdda4"/>
<circle cx="728" cy="314.2" r="1.6" fill="#3288bd"/>
<circle cx="729.4" cy="291.6" r="1.6" fill="#fee695"/>
<circle cx="731" cy="280.0" r="1.6" fill="#f67a49"/>
<circle cx="733.5" cy="299.7" r="1.6" fill="#abdda4"/>
<circle cx="733.5" cy="323.8" r="1.6" fill="#3288bd"/>
<circle cx="734.1" cy="326.2" r="1.6" fill="#3288bd"/>
<circle cx="734.5" cy="331.7" r="1.6" fill="#5e4fa2"/>
<circle cx="739.8" cy="310.9" r="1.6" fill="#abdda4"/>
<circle cx="741.4" cy="313.4" r="1.6" fill="#3288bd"/>
<circle cx="741.8" cy="319.5" r="1.6" fill="#3288bd"/>
<circle cx="741.8" cy="327.6" r="1.6" fill="#3288bd"/>
<circle cx="741.8" cy="295.6" r="1.6" fill="#abdda4"/>
<circle cx="745.1" cy="290.1" r="1.6" fill="#fee695"/>
<circle cx="745.3" cy="306.9" r="1.6" fill="#abdda4"/>
<circle cx="746.3" cy="330.3" r="1.6" fill="#5e4fa2"/>
<circle cx="747.9" cy="282.8" r="1.6" fill="#fee695"/>
<circle cx="748.3" cy="284.4" r="1.6" fill="#fee695"/>
<circle cx="756.5" cy="338.0" r="1.6" fill="#3288bd"/>
<circle cx="756.9" cy="339.4" r="1.6" fill="#3288bd"/>
<circle cx="758.1" cy="308.3" r="1.6" fill="#fee695"/>
<circle cx="759.5" cy="329.7" r="1.6" fill="#abdda4"/>
<circle cx="760.6" cy="313.4" r="1.6" fill="#abdda4"/>
<g font-family='"Liberation Sans", sans-serif' font-size="15" fill="#262626">
<text transform="translate(622.8,296.0) scale(1,1.1)" text-anchor="end" font-size="14.6">0.5</text>
<text transform="translate(622.8,319.7) scale(1,1.1)" text-anchor="end" font-size="14.6">0.0</text>
<text transform="translate(622.8,343.2) scale(1,1.1)" text-anchor="end" font-size="14.6">−0.5</text>
<text transform="translate(653.6,362.6) scale(1,1.1)" text-anchor="middle" font-size="14.6">−0.5</text>
<text transform="translate(692.6,362.6) scale(1,1.1)" text-anchor="middle" font-size="14.6">0.0</text>
<text transform="translate(732.4,362.6) scale(1,1.1)" text-anchor="middle" font-size="14.6">0.5</text>
</g>
<rect x="775.8" y="270.4" width="3.2" height="75.2" fill="url(#spec)"/>
<g font-family='"Liberation Sans", sans-serif' font-size="15" fill="#262626">
<line x1="779" x2="782.5" y1="270.4" y2="270.4" stroke="#262626" stroke-width="0.9"/>
<text transform="translate(783.5,276.0) scale(1,1.1)" font-size="14.6">1.0</text>
<line x1="779" x2="782.5" y1="308.0" y2="308.0" stroke="#262626" stroke-width="0.9"/>
<text transform="translate(783.5,313.6) scale(1,1.1)" font-size="14.6">0.5</text>
<line x1="779" x2="782.5" y1="345.6" y2="345.6" stroke="#262626" stroke-width="0.9"/>
<text transform="translate(783.5,351.2) scale(1,1.1)" font-size="14.6">0.0</text>
<text transform="translate(809.8,308.4) rotate(90)" text-anchor="middle">gravity</text>
</g>
<rect x="629.2" y="368.9" width="137.9" height="74.0" fill="#eaeaf2"/>
<line x1="629.2" x2="767.1" y1="387.5" y2="387.5" stroke="#fff" stroke-width="1.1"/>
<line x1="629.2" x2="767.1" y1="411.20000000000005" y2="411.20000000000005" stroke="#fff" stroke-width="1.1"/>
<line x1="629.2" x2="767.1" y1="434.70000000000005" y2="434.70000000000005" stroke="#fff" stroke-width="1.1"/>
<line x1="653.4" x2="653.4" y1="368.9" y2="442.9" stroke="#fff" stroke-width="1.1"/>
<line x1="693.4" x2="693.4" y1="368.9" y2="442.9" stroke="#fff" stroke-width="1.1"/>
<line x1="733.4" x2="733.4" y1="368.9" y2="442.9" stroke="#fff" stroke-width="1.1"/>
<circle cx="635.3" cy="386.0" r="1.6" fill="#ae1346"/>
<circle cx="636.7" cy="385.6" r="1.6" fill="#ae1346"/>
<circle cx="640.4" cy="382.0" r="1.6" fill="#ae1346"/>
<circle cx="651" cy="381.5" r="1.6" fill="#ae1346"/>
<circle cx="652" cy="385.2" r="1.6" fill="#ae1346"/>
<circle cx="660.7" cy="383.2" r="1.6" fill="#ae1346"/>
<circle cx="644.4" cy="394.4" r="1.6" fill="#ae1346"/>
<circle cx="647.1" cy="397.4" r="1.6" fill="#ae1346"/>
<circle cx="648.9" cy="402.3" r="1.6" fill="#ae1346"/>
<circle cx="655.6" cy="398.9" r="1.6" fill="#ae1346"/>
<circle cx="661.8" cy="410.5" r="1.6" fill="#ae1346"/>
<circle cx="665.2" cy="408.4" r="1.6" fill="#ae1346"/>
<circle cx="666.4" cy="412.5" r="1.6" fill="#ae1346"/>
<circle cx="665.8" cy="414.5" r="1.6" fill="#ae1346"/>
<circle cx="677" cy="393.8" r="1.6" fill="#ae1346"/>
<circle cx="674" cy="423.3" r="1.6" fill="#ae1346"/>
<circle cx="675" cy="427.4" r="1.6" fill="#ae1346"/>
<circle cx="685.2" cy="437.2" r="1.6" fill="#ae1346"/>
<circle cx="688.6" cy="438.6" r="1.6" fill="#ae1346"/>
<circle cx="687.2" cy="430.0" r="1.6" fill="#ae1346"/>
<circle cx="689.3" cy="423.9" r="1.6" fill="#ae1346"/>
<circle cx="687.6" cy="404.8" r="1.6" fill="#ae1346"/>
<circle cx="687.8" cy="399.1" r="1.6" fill="#ae1346"/>
<circle cx="691.7" cy="413.7" r="1.6" fill="#ae1346"/>
<circle cx="691.9" cy="433.9" r="1.6" fill="#ae1346"/>
<circle cx="694.4" cy="375.4" r="1.6" fill="#f88e52"/>
<circle cx="694.8" cy="392.7" r="1.6" fill="#ae1346"/>
<circle cx="695.4" cy="417.6" r="1.6" fill="#ae1346"/>
<circle cx="696.8" cy="432.5" r="1.6" fill="#ae1346"/>
<circle cx="697.8" cy="423.9" r="1.6" fill="#ae1346"/>
<circle cx="700.5" cy="394.4" r="1.6" fill="#ae1346"/>
<circle cx="701.5" cy="371.8" r="1.6" fill="#f88e52"/>
<circle cx="703.5" cy="372.4" r="1.6" fill="#fee695"/>
<circle cx="701.5" cy="439.0" r="1.6" fill="#ae1346"/>
<circle cx="702.1" cy="440.0" r="1.6" fill="#ae1346"/>
<circle cx="704.9" cy="398.5" r="1.6" fill="#ae1346"/>
<circle cx="706.6" cy="381.1" r="1.6" fill="#f88e52"/>
<circle cx="706.6" cy="437.6" r="1.6" fill="#ae1346"/>
<circle cx="708.2" cy="439.0" r="1.6" fill="#ae1346"/>
<circle cx="709" cy="374.4" r="1.6" fill="#fee695"/>
<circle cx="709" cy="387.2" r="1.6" fill="#f88e52"/>
<circle cx="710.4" cy="417.8" r="1.6" fill="#e1514a"/>
<circle cx="712.1" cy="393.4" r="1.6" fill="#f88e52"/>
<circle cx="712.7" cy="429.4" r="1.6" fill="#e1514a"/>
<circle cx="713.1" cy="409.5" r="1.6" fill="#e1514a"/>
<circle cx="713.7" cy="430.8" r="1.6" fill="#f88e52"/>
<circle cx="713.7" cy="380.5" r="1.6" fill="#fdbd6e"/>
<circle cx="715.7" cy="434.5" r="1.6" fill="#e1514a"/>
<circle cx="716.8" cy="397.2" r="1.6" fill="#f88e52"/>
<circle cx="719.8" cy="381.1" r="1.6" fill="#fdbd6e"/>
<circle cx="720.2" cy="421.3" r="1.6" fill="#f88e52"/>
<circle cx="720.6" cy="429.4" r="1.6" fill="#f88e52"/>
<circle cx="720.6" cy="431.9" r="1.6" fill="#f88e52"/>
<circle cx="721.9" cy="401.1" r="1.6" fill="#f88e52"/>
<circle cx="728" cy="411.3" r="1.6" fill="#f88e52"/>
<circle cx="729.4" cy="388.7" r="1.6" fill="#f88e52"/>
<circle cx="731" cy="377.1" r="1.6" fill="#b7e2a2"/>
<circle cx="733.5" cy="396.8" r="1.6" fill="#fdbd6e"/>
<circle cx="733.5" cy="420.9" r="1.6" fill="#fdbd6e"/>
<circle cx="734.1" cy="423.3" r="1.6" fill="#fdbd6e"/>
<circle cx="734.5" cy="428.8" r="1.6" fill="#fdbd6e"/>
<circle cx="739.8" cy="408.0" r="1.6" fill="#fdbd6e"/>
<circle cx="741.4" cy="410.5" r="1.6" fill="#f88e52"/>
<circle cx="741.8" cy="416.6" r="1.6" fill="#fee695"/>
<circle cx="741.8" cy="424.7" r="1.6" fill="#fee695"/>
<circle cx="741.8" cy="392.7" r="1.6" fill="#fee695"/>
<circle cx="745.1" cy="387.2" r="1.6" fill="#b7e2a2"/>
<circle cx="745.3" cy="404.0" r="1.6" fill="#fee695"/>
<circle cx="746.3" cy="427.4" r="1.6" fill="#fee695"/>
<circle cx="747.9" cy="379.9" r="1.6" fill="#fee695"/>
<circle cx="748.3" cy="381.5" r="1.6" fill="#fee695"/>
<circle cx="756.5" cy="435.1" r="1.6" fill="#e6f598"/>
<circle cx="756.9" cy="436.5" r="1.6" fill="#e6f598"/>
<circle cx="758.1" cy="405.4" r="1.6" fill="#b7e2a2"/>
<circle cx="759.5" cy="426.8" r="1.6" fill="#b7e2a2"/>
<circle cx="760.6" cy="410.5" r="1.6" fill="#b7e2a2"/>
<g font-family='"Liberation Sans", sans-serif' font-size="15" fill="#262626">
<text transform="translate(622.8,393.1) scale(1,1.1)" text-anchor="end" font-size="14.6">0.5</text>
<text transform="translate(622.8,416.8) scale(1,1.1)" text-anchor="end" font-size="14.6">0.0</text>
<text transform="translate(622.8,440.3) scale(1,1.1)" text-anchor="end" font-size="14.6">−0.5</text>
<text transform="translate(653.6,459.7) scale(1,1.1)" text-anchor="middle" font-size="14.6">−0.5</text>
<text transform="translate(692.6,459.7) scale(1,1.1)" text-anchor="middle" font-size="14.6">0.0</text>
<text transform="translate(732.4,459.7) scale(1,1.1)" text-anchor="middle" font-size="14.6">0.5</text>
</g>
<rect x="775.8" y="367.5" width="3.2" height="75.2" fill="url(#spec)"/>
<g font-family='"Liberation Sans", sans-serif' font-size="15" fill="#262626">
<line x1="779" x2="782.5" y1="367.5" y2="367.5" stroke="#262626" stroke-width="0.9"/>
<text transform="translate(783.5,373.1) scale(1,1.1)" font-size="14.6">1.0</text>
<line x1="779" x2="782.5" y1="405.1" y2="405.1" stroke="#262626" stroke-width="0.9"/>
<text transform="translate(783.5,410.7) scale(1,1.1)" font-size="14.6">0.5</text>
<line x1="779" x2="782.5" y1="442.7" y2="442.7" stroke="#262626" stroke-width="0.9"/>
<text transform="translate(783.5,448.3) scale(1,1.1)" font-size="14.6">0.0</text>
<text transform="translate(809.8,405.2) rotate(90)" text-anchor="middle">dof_damping</text>
</g>
<g font-family='"Liberation Sans", sans-serif' font-size="15" fill="#262626">
<text x="698.2" y="474.5" text-anchor="middle">context dim1 (x)</text>
<text transform="translate(591,355.3) rotate(-90)" text-anchor="middle">context dim2 (y)</text>
</g>
<rect x="887.8" y="269.1" width="169.7" height="117.8" fill="#eaeaf2"/>
<line x1="887.8" x2="1057.5" y1="285.8" y2="285.8" stroke="#fff" stroke-width="1.1"/>
<line x1="887.8" x2="1057.5" y1="312.4" y2="312.4" stroke="#fff" stroke-width="1.1"/>
<line x1="887.8" x2="1057.5" y1="339" y2="339" stroke="#fff" stroke-width="1.1"/>
<line x1="887.8" x2="1057.5" y1="365.6" y2="365.6" stroke="#fff" stroke-width="1.1"/>
<line x1="890.5" x2="890.5" y1="269.1" y2="386.9" stroke="#fff" stroke-width="1.1"/>
<line x1="923.76" x2="923.76" y1="269.1" y2="386.9" stroke="#fff" stroke-width="1.1"/>
<line x1="957.02" x2="957.02" y1="269.1" y2="386.9" stroke="#fff" stroke-width="1.1"/>
<line x1="990.28" x2="990.28" y1="269.1" y2="386.9" stroke="#fff" stroke-width="1.1"/>
<line x1="1023.54" x2="1023.54" y1="269.1" y2="386.9" stroke="#fff" stroke-width="1.1"/>
<line x1="907.1" x2="907.1" y1="269.1" y2="386.9" stroke="#9a9a9a" stroke-width="0.8" stroke-dasharray="1.2,2.2"/>
<line x1="923.8" x2="923.8" y1="269.1" y2="386.9" stroke="#9a9a9a" stroke-width="0.8" stroke-dasharray="1.2,2.2"/>
<line x1="940.4" x2="940.4" y1="269.1" y2="386.9" stroke="#9a9a9a" stroke-width="0.8" stroke-dasharray="1.2,2.2"/>
<line x1="957.0" x2="957.0" y1="269.1" y2="386.9" stroke="#9a9a9a" stroke-width="0.8" stroke-dasharray="1.2,2.2"/>
<line x1="973.6" x2="973.6" y1="269.1" y2="386.9" stroke="#9a9a9a" stroke-width="0.8" stroke-dasharray="1.2,2.2"/>
<line x1="990.3" x2="990.3" y1="269.1" y2="386.9" stroke="#9a9a9a" stroke-width="0.8" stroke-dasharray="1.2,2.2"/>
<line x1="1006.9" x2="1006.9" y1="269.1" y2="386.9" stroke="#9a9a9a" stroke-width="0.8" stroke-dasharray="1.2,2.2"/>
<line x1="1023.5" x2="1023.5" y1="269.1" y2="386.9" stroke="#9a9a9a" stroke-width="0.8" stroke-dasharray="1.2,2.2"/>
<line x1="1040.2" x2="1040.2" y1="269.1" y2="386.9" stroke="#9a9a9a" stroke-width="0.8" stroke-dasharray="1.2,2.2"/>
<g font-family='"Liberation Sans", sans-serif' font-size="15" fill="#262626">
<text transform="translate(883.3,291.1) scale(1,1.1)" text-anchor="end" font-size="13.7">0.8</text>
<text transform="translate(883.3,317.7) scale(1,1.1)" text-anchor="end" font-size="13.7">0.4</text>
<text transform="translate(883.3,344.3) scale(1,1.1)" text-anchor="end" font-size="13.7">0.0</text>
<text transform="translate(883.3,370.9) scale(1,1.1)" text-anchor="end" font-size="13.7">−0.4</text>
<text transform="translate(890.5,402.0) scale(1,1.1)" text-anchor="middle" font-size="13.7">0</text>
<text transform="translate(923.8,402.0) scale(1,1.1)" text-anchor="middle" font-size="13.7">200</text>
<text transform="translate(957.0,402.0) scale(1,1.1)" text-anchor="middle" font-size="13.7">400</text>
<text transform="translate(990.3,402.0) scale(1,1.1)" text-anchor="middle" font-size="13.7">600</text>
<text transform="translate(1023.5,402.0) scale(1,1.1)" text-anchor="middle" font-size="13.7">800</text>
<text x="972.5" y="414.8" text-anchor="middle">time steps</text>
<text transform="translate(853.3,327.5) rotate(-90)" text-anchor="middle">context value</text>
</g>
<svg x="887.8" y="269.1" width="169.7" height="117.8" viewBox="887.8 269.1 169.7 117.8" overflow="hidden">
<polygon points="890.5,289.6 891.0,294.0 891.5,296.3 892.0,296.7 892.5,297.3 893.0,295.6 893.5,297.3 894.0,296.8 894.5,296.2 895.0,297.4 895.5,297.0 896.0,297.1 896.5,297.3 897.0,297.1 897.5,297.5 898.0,295.8 898.5,296.6 899.0,296.4 899.5,297.2 900.0,296.2 900.5,296.3 901.0,296.6 901.5,297.0 902.0,296.6 902.5,295.8 903.0,296.8 903.5,295.9 904.0,296.5 904.5,297.2 905.0,296.9 905.5,295.9 906.0,297.2 906.5,296.0 907.0,296.8 907.5,312.2 908.0,312.5 908.5,314.1 909.0,313.7 909.5,313.9 910.0,313.6 910.5,314.4 911.0,314.2 911.5,314.5 912.0,313.8 912.5,314.3 913.0,313.7 913.4,313.1 913.9,314.0 914.4,313.3 914.9,313.4 915.4,313.7 915.9,313.4 916.4,314.2 916.9,312.6 917.4,313.7 917.9,313.6 918.4,313.2 918.9,312.2 919.4,313.7 919.9,312.8 920.4,312.6 920.9,312.9 921.4,312.2 921.9,312.7 922.4,312.7 922.9,312.5 923.4,313.1 923.9,312.9 924.4,312.4 924.9,312.0 925.4,313.5 925.9,313.5 926.4,313.2 926.9,313.5 927.4,312.5 927.9,312.7 928.4,311.9 928.9,312.5 929.4,312.4 929.9,312.5 930.4,312.1 930.9,312.4 931.4,312.3 931.9,312.2 932.4,311.6 932.9,311.9 933.4,312.4 933.9,311.7 934.4,312.7 934.9,312.2 935.4,312.4 935.9,312.0 936.4,312.6 936.9,311.9 937.4,312.4 937.9,312.6 938.4,312.3 938.9,313.2 939.4,312.8 939.9,312.4 940.4,312.9 940.9,312.6 941.4,312.6 941.9,311.2 942.4,312.2 942.9,311.3 943.4,312.1 943.9,312.7 944.4,312.3 944.9,311.5 945.4,311.8 945.9,311.8 946.4,312.7 946.9,312.7 947.4,311.9 947.9,311.3 948.4,311.8 948.9,311.9 949.4,312.3 949.9,312.0 950.4,312.1 950.9,311.6 951.4,311.4 951.9,311.1 952.4,312.7 952.9,311.5 953.4,312.4 953.9,312.6 954.4,312.2 954.9,312.1 955.4,312.8 955.9,311.3 956.4,311.6 956.9,312.0 957.4,312.0 957.9,311.2 958.4,311.4 958.8,311.9 959.3,312.4 959.8,312.3 960.3,312.5 960.8,312.2 961.3,312.0 961.8,312.3 962.3,311.4 962.8,312.4 963.3,312.4 963.8,311.5 964.3,311.0 964.8,311.4 965.3,311.8 965.8,311.9 966.3,311.8 966.8,312.1 967.3,312.2 967.8,311.6 968.3,311.1 968.8,312.8 969.3,312.3 969.8,311.9 970.3,311.4 970.8,312.5 971.3,312.8 971.8,311.6 972.3,312.0 972.8,312.1 973.3,311.4 973.8,312.2 974.3,311.8 974.8,311.9 975.3,311.8 975.8,311.6 976.3,311.5 976.8,311.4 977.3,311.7 977.8,311.7 978.3,312.6 978.8,312.0 979.3,311.4 979.8,312.7 980.3,310.9 980.8,312.1 981.3,312.1 981.8,312.3 982.3,312.4 982.8,311.2 983.3,312.0 983.8,312.1 984.3,312.0 984.8,312.0 985.3,312.6 985.8,311.7 986.3,311.1 986.8,311.2 987.3,312.8 987.8,311.9 988.3,312.3 988.8,312.2 989.3,312.5 989.8,312.1 990.3,312.2 990.8,311.3 991.3,311.6 991.8,312.2 992.3,312.6 992.8,310.9 993.3,311.3 993.8,312.1 994.3,312.6 994.8,311.6 995.3,312.2 995.8,312.4 996.3,312.3 996.8,312.7 997.3,311.3 997.8,311.7 998.3,311.1 998.8,311.9 999.3,311.4 999.8,312.5 1000.3,311.7 1000.8,311.6 1001.3,311.9 1001.8,312.0 1002.3,312.0 1002.8,311.3 1003.3,312.8 1003.8,312.0 1004.2,312.9 1004.7,311.2 1005.2,312.7 1005.7,311.5 1006.2,312.2 1006.7,311.6 1007.2,312.1 1007.7,311.9 1008.2,312.1 1008.7,311.6 1009.2,311.7 1009.7,311.6 1010.2,312.1 1010.7,311.4 1011.2,311.6 1011.7,312.6 1012.2,311.8 1012.7,312.0 1013.2,311.8 1013.7,312.0 1014.2,311.3 1014.7,312.4 1015.2,311.1 1015.7,311.6 1016.2,311.8 1016.7,313.0 1017.2,311.8 1017.7,312.2 1018.2,311.1 1018.7,312.4 1019.2,312.6 1019.7,312.3 1020.2,311.6 1020.7,311.7 1021.2,312.1 1021.7,311.8 1022.2,311.7 1022.7,311.7 1023.2,312.9 1023.7,311.9 1024.2,310.8 1024.7,311.5 1025.2,312.0 1025.7,312.3 1026.2,311.9 1026.7,312.2 1027.2,311.8 1027.7,312.2 1028.2,312.1 1028.7,311.9 1029.2,312.5 1029.7,312.0 1030.2,312.7 1030.7,312.1 1031.2,312.7 1031.7,311.7 1032.2,310.8 1032.7,311.7 1033.2,312.3 1033.7,312.1 1034.2,312.5 1034.7,311.3 1035.2,312.5 1035.7,311.4 1036.2,312.6 1036.7,311.6 1037.2,311.3 1037.7,311.6 1038.2,311.7 1038.7,311.9 1039.2,312.2 1039.7,312.7 1040.2,311.7 1040.7,312.1 1041.2,312.5 1041.7,311.9 1042.2,313.0 1042.7,312.1 1043.2,311.2 1043.7,311.8 1044.2,311.3 1044.7,311.2 1045.2,312.1 1045.7,312.6 1046.2,312.5 1046.7,312.0 1047.2,312.0 1047.7,312.6 1048.2,312.1 1048.7,312.5 1049.2,312.4 1049.6,311.4 1050.1,312.7 1050.6,311.6 1051.1,311.8 1051.6,311.7 1052.1,312.0 1052.6,313.0 1053.1,311.5 1053.6,312.4 1054.1,311.9 1054.6,312.4 1055.1,312.4 1055.6,312.0 1056.1,312.6 1056.6,312.0 1056.6,318.8 1056.1,319.4 1055.6,320.0 1055.1,319.5 1054.6,319.3 1054.1,319.0 1053.6,320.1 1053.1,320.0 1052.6,320.4 1052.1,319.7 1051.6,319.8 1051.1,318.9 1050.6,319.2 1050.1,320.3 1049.6,319.1 1049.2,320.5 1048.7,320.0 1048.2,319.4 1047.7,320.0 1047.2,319.7 1046.7,320.1 1046.2,320.1 1045.7,319.5 1045.2,319.6 1044.7,319.6 1044.2,318.5 1043.7,319.7 1043.2,318.6 1042.7,319.3 1042.2,320.3 1041.7,318.9 1041.2,319.9 1040.7,319.7 1040.2,319.2 1039.7,319.3 1039.2,319.8 1038.7,319.9 1038.2,319.0 1037.7,318.9 1037.2,318.9 1036.7,319.2 1036.2,319.6 1035.7,318.6 1035.2,319.8 1034.7,319.5 1034.2,319.5 1033.7,320.0 1033.2,319.2 1032.7,319.5 1032.2,319.6 1031.7,319.0 1031.2,319.6 1030.7,319.7 1030.2,319.9 1029.7,319.0 1029.2,319.9 1028.7,319.8 1028.2,319.2 1027.7,320.1 1027.2,319.7 1026.7,320.0 1026.2,319.3 1025.7,319.1 1025.2,320.4 1024.7,319.8 1024.2,319.0 1023.7,319.4 1023.2,320.2 1022.7,318.7 1022.2,319.9 1021.7,319.1 1021.2,319.7 1020.7,319.1 1020.2,319.4 1019.7,319.7 1019.2,319.4 1018.7,319.8 1018.2,319.6 1017.7,319.5 1017.2,318.9 1016.7,320.6 1016.2,320.4 1015.7,319.7 1015.2,319.2 1014.7,320.0 1014.2,319.0 1013.7,319.2 1013.2,319.1 1012.7,319.4 1012.2,320.3 1011.7,320.4 1011.2,319.9 1010.7,319.0 1010.2,320.3 1009.7,319.7 1009.2,319.6 1008.7,319.5 1008.2,318.8 1007.7,318.9 1007.2,320.0 1006.7,318.7 1006.2,319.4 1005.7,319.6 1005.2,319.6 1004.7,320.0 1004.2,320.4 1003.8,319.3 1003.3,320.5 1002.8,319.3 1002.3,319.5 1001.8,320.1 1001.3,318.7 1000.8,319.3 1000.3,318.5 999.8,320.0 999.3,319.5 998.8,319.2 998.3,318.9 997.8,319.3 997.3,319.8 996.8,319.3 996.3,319.4 995.8,319.0 995.3,319.9 994.8,319.6 994.3,319.7 993.8,319.7 993.3,319.6 992.8,318.5 992.3,320.2 991.8,318.8 991.3,319.5 990.8,318.9 990.3,319.7 989.8,319.4 989.3,319.6 988.8,319.3 988.3,320.6 987.8,319.5 987.3,319.7 986.8,319.7 986.3,318.8 985.8,319.5 985.3,319.4 984.8,320.2 984.3,320.2 983.8,319.5 983.3,320.0 982.8,319.2 982.3,319.8 981.8,319.4 981.3,320.3 980.8,319.2 980.3,319.2 979.8,319.9 979.3,320.0 978.8,319.8 978.3,320.2 977.8,318.8 977.3,318.8 976.8,318.9 976.3,318.9 975.8,319.3 975.3,318.8 974.8,320.5 974.3,319.7 973.8,319.0 973.3,319.0 972.8,320.5 972.3,319.3 971.8,319.7 971.3,320.3 970.8,320.5 970.3,319.6 969.8,319.6 969.3,320.0 968.8,320.1 968.3,319.3 967.8,318.9 967.3,319.5 966.8,319.6 966.3,320.0 965.8,319.1 965.3,319.3 964.8,319.6 964.3,318.6 963.8,319.2 963.3,319.5 962.8,320.2 962.3,318.7 961.8,319.4 961.3,319.8 960.8,318.8 960.3,319.4 959.8,319.5 959.3,319.0 958.8,320.3 958.4,319.2 957.9,319.6 957.4,319.3 956.9,319.0 956.4,319.4 955.9,319.7 955.4,319.6 954.9,319.4 954.4,319.4 953.9,320.3 953.4,318.9 952.9,319.5 952.4,320.5 951.9,319.6 951.4,319.6 950.9,320.0 950.4,319.4 949.9,318.8 949.4,319.5 948.9,320.2 948.4,319.8 947.9,319.2 947.4,319.3 946.9,319.2 946.4,320.1 945.9,319.5 945.4,319.1 944.9,319.3 944.4,319.3 943.9,319.5 943.4,319.5 942.9,319.5 942.4,319.7 941.9,319.3 941.4,319.4 940.9,319.6 940.4,320.4 939.9,319.7 939.4,319.5 938.9,320.7 938.4,319.6 937.9,320.2 937.4,320.1 936.9,319.8 936.4,319.6 935.9,319.6 935.4,319.8 934.9,320.1 934.4,319.8 933.9,319.4 933.4,320.6 932.9,319.3 932.4,319.1 931.9,320.0 931.4,319.8 930.9,319.5 930.4,319.8 929.9,319.7 929.4,320.7 928.9,319.9 928.4,320.6 927.9,319.3 927.4,320.7 926.9,320.0 926.4,319.9 925.9,320.2 925.4,320.7 924.9,320.1 924.4,319.8 923.9,321.0 923.4,320.3 922.9,319.6 922.4,319.6 921.9,320.3 921.4,320.5 920.9,320.8 920.4,319.8 919.9,321.5 919.4,320.6 918.9,319.8 918.4,320.5 917.9,321.0 917.4,321.2 916.9,320.9 916.4,321.1 915.9,321.8 915.4,320.6 914.9,321.6 914.4,320.9 913.9,321.9 913.4,320.5 913.0,322.1 912.5,321.4 912.0,322.2 911.5,321.6 911.0,321.5 910.5,321.6 910.0,321.3 909.5,322.1 909.0,321.4 908.5,321.8 908.0,321.2 907.5,320.0 907.0,303.5 906.5,303.7 906.0,304.3 905.5,303.1 905.0,303.6 904.5,303.7 904.0,303.6 903.5,304.2 903.0,304.9 902.5,303.9 902.0,304.5 901.5,304.3 901.0,304.6 900.5,304.1 900.0,303.7 899.5,304.9 899.0,303.2 898.5,303.6 898.0,303.6 897.5,304.9 897.0,304.8 896.5,304.7 896.0,304.6 895.5,304.0 895.0,304.1 894.5,304.4 894.0,304.4 893.5,304.5 893.0,303.1 892.5,305.0 892.0,303.7 891.5,303.1 891.0,301.4 890.5,297.6" fill="#ff7f0e" fill-opacity="0.3"/>
<polygon points="890.5,320.5 891.0,301.3 891.5,293.9 892.0,291.3 892.5,290.1 893.0,289.8 893.5,290.2 894.0,290.6 894.5,290.0 895.0,289.5 895.5,290.6 896.0,290.3 896.5,289.7 897.0,290.2 897.5,290.0 898.0,290.1 898.5,289.9 899.0,290.0 899.5,289.9 900.0,290.0 900.5,289.8 901.0,290.0 901.5,290.0 902.0,290.3 902.5,289.8 903.0,289.8 903.5,289.8 904.0,290.5 904.5,289.5 905.0,290.0 905.5,289.6 906.0,290.2 906.5,289.9 907.0,289.9 907.5,304.7 908.0,306.7 908.5,307.5 909.0,308.9 909.5,309.3 910.0,310.4 910.5,311.4 911.0,311.3 911.5,312.9 912.0,313.0 912.5,314.1 913.0,314.5 913.4,314.8 913.9,315.0 914.4,315.9 914.9,316.5 915.4,316.6 915.9,316.4 916.4,317.5 916.9,317.6 917.4,317.5 917.9,318.0 918.4,318.4 918.9,318.2 919.4,318.8 919.9,318.7 920.4,319.8 920.9,318.8 921.4,319.8 921.9,319.6 922.4,320.0 922.9,320.3 923.4,320.0 923.9,320.1 924.4,320.8 924.9,320.3 925.4,320.6 925.9,320.9 926.4,320.7 926.9,320.6 927.4,320.2 927.9,320.6 928.4,320.8 928.9,321.1 929.4,321.2 929.9,321.0 930.4,320.6 930.9,320.8 931.4,321.1 931.9,321.1 932.4,321.2 932.9,320.7 933.4,320.7 933.9,321.6 934.4,320.9 934.9,321.7 935.4,321.8 935.9,320.9 936.4,321.0 936.9,321.0 937.4,321.7 937.9,321.2 938.4,321.0 938.9,321.2 939.4,321.3 939.9,321.3 940.4,321.0 940.9,321.1 941.4,321.5 941.9,321.2 942.4,321.1 942.9,321.3 943.4,321.5 943.9,321.0 944.4,321.5 944.9,321.3 945.4,322.0 945.9,321.1 946.4,321.3 946.9,322.0 947.4,321.5 947.9,321.8 948.4,321.5 948.9,321.5 949.4,321.8 949.9,321.4 950.4,320.9 950.9,321.7 951.4,321.6 951.9,321.4 952.4,321.3 952.9,321.4 953.4,321.3 953.9,320.9 954.4,321.4 954.9,321.8 955.4,321.9 955.9,321.2 956.4,321.2 956.9,321.4 957.4,321.8 957.9,321.0 958.4,321.2 958.8,322.1 959.3,321.4 959.8,321.7 960.3,321.6 960.8,321.1 961.3,321.7 961.8,321.7 962.3,321.4 962.8,321.5 963.3,322.0 963.8,321.6 964.3,321.2 964.8,321.2 965.3,321.6 965.8,322.2 966.3,321.5 966.8,321.3 967.3,321.8 967.8,321.7 968.3,321.6 968.8,321.9 969.3,321.7 969.8,322.0 970.3,321.2 970.8,321.8 971.3,321.9 971.8,321.3 972.3,321.5 972.8,321.6 973.3,321.5 973.8,321.2 974.3,321.4 974.8,321.6 975.3,321.4 975.8,321.1 976.3,321.5 976.8,321.5 977.3,321.6 977.8,321.5 978.3,321.7 978.8,321.4 979.3,322.1 979.8,321.7 980.3,321.0 980.8,321.6 981.3,321.5 981.8,322.0 982.3,321.7 982.8,321.6 983.3,321.7 983.8,321.3 984.3,321.8 984.8,321.9 985.3,321.1 985.8,321.5 986.3,321.6 986.8,321.8 987.3,321.4 987.8,321.5 988.3,321.1 988.8,321.6 989.3,321.2 989.8,321.3 990.3,321.9 990.8,321.5 991.3,321.5 991.8,321.5 992.3,321.7 992.8,321.5 993.3,321.4 993.8,322.1 994.3,321.6 994.8,321.6 995.3,321.7 995.8,321.8 996.3,321.2 996.8,321.4 997.3,321.3 997.8,321.6 998.3,321.7 998.8,321.7 999.3,321.8 999.8,321.4 1000.3,321.2 1000.8,322.1 1001.3,321.7 1001.8,321.7 1002.3,321.7 1002.8,321.9 1003.3,321.5 1003.8,321.6 1004.2,321.8 1004.7,321.1 1005.2,322.0 1005.7,321.6 1006.2,321.6 1006.7,321.1 1007.2,321.6 1007.7,321.5 1008.2,321.7 1008.7,321.5 1009.2,321.1 1009.7,321.3 1010.2,321.2 1010.7,321.6 1011.2,321.6 1011.7,321.7 1012.2,321.1 1012.7,321.1 1013.2,321.4 1013.7,322.0 1014.2,321.4 1014.7,321.2 1015.2,321.8 1015.7,321.6 1016.2,322.1 1016.7,321.6 1017.2,322.0 1017.7,322.0 1018.2,321.6 1018.7,321.4 1019.2,321.3 1019.7,321.7 1020.2,321.9 1020.7,321.3 1021.2,321.6 1021.7,321.8 1022.2,321.8 1022.7,321.9 1023.2,321.8 1023.7,321.6 1024.2,321.9 1024.7,321.3 1025.2,321.6 1025.7,321.7 1026.2,321.2 1026.7,321.9 1027.2,321.4 1027.7,321.2 1028.2,321.6 1028.7,321.4 1029.2,321.9 1029.7,321.3 1030.2,321.7 1030.7,321.5 1031.2,321.2 1031.7,321.4 1032.2,321.9 1032.7,321.9 1033.2,321.2 1033.7,321.4 1034.2,321.9 1034.7,321.6 1035.2,321.6 1035.7,321.6 1036.2,322.2 1036.7,321.3 1037.2,321.4 1037.7,321.8 1038.2,321.5 1038.7,321.6 1039.2,321.7 1039.7,321.8 1040.2,321.7 1040.7,321.2 1041.2,321.5 1041.7,321.6 1042.2,321.4 1042.7,321.7 1043.2,322.0 1043.7,321.8 1044.2,321.2 1044.7,321.6 1045.2,321.2 1045.7,321.6 1046.2,321.7 1046.7,321.4 1047.2,321.6 1047.7,321.6 1048.2,321.9 1048.7,321.2 1049.2,321.4 1049.6,321.8 1050.1,321.5 1050.6,321.8 1051.1,321.8 1051.6,321.4 1052.1,321.5 1052.6,321.9 1053.1,321.5 1053.6,322.0 1054.1,321.8 1054.6,321.5 1055.1,321.4 1055.6,321.3 1056.1,321.4 1056.6,321.6 1056.6,325.1 1056.1,325.1 1055.6,325.0 1055.1,324.7 1054.6,325.0 1054.1,325.2 1053.6,325.6 1053.1,325.4 1052.6,325.3 1052.1,325.1 1051.6,325.3 1051.1,325.3 1050.6,325.1 1050.1,324.7 1049.6,325.6 1049.2,325.4 1048.7,325.1 1048.2,325.5 1047.7,325.1 1047.2,324.9 1046.7,325.0 1046.2,325.3 1045.7,325.0 1045.2,325.2 1044.7,325.3 1044.2,324.9 1043.7,325.3 1043.2,325.2 1042.7,325.7 1042.2,324.8 1041.7,325.4 1041.2,325.0 1040.7,325.2 1040.2,324.9 1039.7,325.4 1039.2,325.4 1038.7,325.2 1038.2,324.6 1037.7,325.5 1037.2,324.9 1036.7,324.7 1036.2,325.8 1035.7,324.9 1035.2,325.5 1034.7,325.2 1034.2,325.3 1033.7,325.1 1033.2,324.6 1032.7,325.5 1032.2,325.6 1031.7,324.7 1031.2,325.0 1030.7,324.8 1030.2,325.4 1029.7,324.8 1029.2,325.4 1028.7,325.4 1028.2,324.7 1027.7,325.2 1027.2,324.9 1026.7,325.5 1026.2,324.6 1025.7,325.5 1025.2,325.1 1024.7,325.0 1024.2,325.0 1023.7,325.2 1023.2,325.6 1022.7,325.4 1022.2,325.4 1021.7,325.3 1021.2,325.6 1020.7,325.0 1020.2,325.4 1019.7,325.4 1019.2,325.1 1018.7,325.1 1018.2,325.5 1017.7,325.3 1017.2,325.4 1016.7,325.4 1016.2,325.3 1015.7,325.1 1015.2,325.4 1014.7,324.6 1014.2,325.2 1013.7,325.6 1013.2,325.1 1012.7,325.1 1012.2,324.9 1011.7,325.3 1011.2,325.2 1010.7,325.2 1010.2,324.8 1009.7,325.2 1009.2,324.6 1008.7,325.5 1008.2,325.0 1007.7,325.0 1007.2,325.3 1006.7,324.8 1006.2,325.4 1005.7,324.9 1005.2,325.5 1004.7,325.2 1004.2,325.1 1003.8,325.3 1003.3,324.8 1002.8,325.3 1002.3,325.7 1001.8,324.9 1001.3,325.2 1000.8,325.3 1000.3,325.0 999.8,324.7 999.3,325.6 998.8,325.6 998.3,325.7 997.8,325.1 997.3,325.2 996.8,325.1 996.3,324.8 995.8,325.1 995.3,325.0 994.8,325.1 994.3,325.2 993.8,325.8 993.3,325.1 992.8,325.2 992.3,325.3 991.8,324.9 991.3,325.1 990.8,325.1 990.3,325.5 989.8,324.8 989.3,325.1 988.8,325.5 988.3,325.0 987.8,324.9 987.3,325.2 986.8,325.4 986.3,324.8 985.8,324.6 985.3,324.9 984.8,325.5 984.3,325.4 983.8,325.1 983.3,325.1 982.8,325.4 982.3,325.4 981.8,325.6 981.3,324.9 980.8,325.3 980.3,325.0 979.8,325.4 979.3,325.3 978.8,325.3 978.3,325.5 977.8,324.6 977.3,325.6 976.8,324.7 976.3,325.0 975.8,324.6 975.3,325.0 974.8,325.4 974.3,325.2 973.8,325.4 973.3,324.7 972.8,325.2 972.3,325.2 971.8,324.8 971.3,325.6 970.8,325.3 970.3,325.2 969.8,325.6 969.3,325.1 968.8,325.3 968.3,324.7 967.8,324.8 967.3,325.3 966.8,325.1 966.3,325.1 965.8,325.3 965.3,325.1 964.8,324.8 964.3,325.2 963.8,325.3 963.3,325.5 962.8,325.5 962.3,325.0 961.8,325.0 961.3,325.4 960.8,325.1 960.3,325.3 959.8,325.5 959.3,325.4 958.8,325.3 958.4,325.2 957.9,324.9 957.4,325.4 956.9,325.5 956.4,325.0 955.9,325.2 955.4,325.3 954.9,325.0 954.4,324.7 953.9,324.6 953.4,325.2 952.9,324.7 952.4,324.7 951.9,325.0 951.4,325.1 950.9,324.8 950.4,325.0 949.9,325.0 949.4,325.2 948.9,325.2 948.4,325.6 947.9,325.3 947.4,324.8 946.9,325.2 946.4,324.8 945.9,324.9 945.4,325.5 944.9,324.7 944.4,325.0 943.9,324.7 943.4,325.3 942.9,325.1 942.4,324.9 941.9,324.7 941.4,325.4 940.9,324.9 940.4,324.8 939.9,324.8 939.4,324.7 938.9,324.4 938.4,324.8 937.9,325.0 937.4,325.1 936.9,324.6 936.4,324.8 935.9,324.6 935.4,325.5 934.9,324.9 934.4,324.8 933.9,325.2 933.4,324.8 932.9,324.7 932.4,324.6 931.9,324.8 931.4,324.9 930.9,324.6 930.4,324.4 929.9,324.4 929.4,324.4 928.9,324.5 928.4,324.2 927.9,324.3 927.4,324.1 926.9,324.3 926.4,324.6 925.9,324.6 925.4,324.1 924.9,324.1 924.4,324.4 923.9,323.4 923.4,323.4 922.9,323.9 922.4,323.7 921.9,323.3 921.4,323.1 920.9,322.6 920.4,323.5 919.9,322.4 919.4,322.2 918.9,321.8 918.4,321.9 917.9,321.6 917.4,321.2 916.9,321.1 916.4,321.5 915.9,320.2 915.4,320.4 914.9,320.0 914.4,319.8 913.9,318.6 913.4,318.3 913.0,317.8 912.5,317.4 912.0,316.5 911.5,316.3 911.0,314.9 910.5,314.7 910.0,313.9 909.5,313.0 909.0,312.2 908.5,311.0 908.0,310.0 907.5,308.7 907.0,293.7 906.5,293.7 906.0,293.6 905.5,293.3 905.0,293.4 904.5,293.3 904.0,294.2 903.5,293.0 903.0,293.3 902.5,293.3 902.0,294.1 901.5,293.6 901.0,294.1 900.5,293.9 900.0,293.7 899.5,293.8 899.0,293.7 898.5,293.7 898.0,294.0 897.5,293.7 897.0,293.7 896.5,293.8 896.0,293.7 895.5,293.7 895.0,293.3 894.5,293.8 894.0,293.7 893.5,293.8 893.0,293.6 892.5,293.8 892.0,294.9 891.5,297.1 891.0,305.1 890.5,324.5" fill="#9467bd" fill-opacity="0.25"/>
<polyline points="890.5,331.7 890.6,324.1 890.7,317.5 890.7,312.5 890.8,307.7 891.0,301.7 891.2,296.9 891.3,294.2 891.5,292.5 891.8,290.4 892.2,289.2 892.5,289.0 893.2,288.2 893.8,288.8 894.5,288.5 895.2,288.4 895.8,288.6 896.5,288.2 897.2,288.6 897.8,288.3 898.5,288.4 899.1,288.6 899.8,288.5 900.5,288.8 901.1,288.7 901.8,288.2 902.5,288.6 903.1,288.3 903.8,288.8 904.5,288.4 905.1,288.6 905.8,288.5 906.5,288.6 907.1,288.8 907.2,297.2 907.3,304.2 907.4,310.1 907.5,314.3 907.6,321.6 907.8,326.2 908.0,329.0 908.1,331.2 908.5,333.4 908.8,334.5 909.1,335.6 909.8,335.8 910.5,336.0 911.1,335.5 911.8,335.5 912.5,335.8 913.1,335.7 913.8,335.5 914.4,335.5 915.1,335.9 915.8,335.4 916.4,335.8 917.1,335.6 917.8,335.9 918.4,336.0 919.1,335.3 919.8,335.5 920.4,335.5 921.1,336.0 921.8,336.0 922.4,335.9 923.1,335.9 923.8,335.8 923.8,337.5 923.9,339.1 924.0,340.0 924.1,340.7 924.3,342.4 924.4,342.8 924.6,343.7 924.8,344.0 925.1,344.8 925.4,344.9 925.8,344.8 926.4,345.1 927.1,345.4 927.8,344.7 928.4,344.8 929.1,345.2 929.7,345.3 930.4,344.7 931.1,344.9 931.7,345.3 932.4,345.2 933.1,345.3 933.7,344.8 934.4,345.2 935.1,344.7 935.7,344.8 936.4,345.3 937.1,344.8 937.7,345.1 938.4,344.8 939.1,344.7 939.7,345.2 940.4,345.3 940.5,333.9 940.6,325.5 940.6,317.9 940.7,312.2 940.9,303.4 941.1,297.5 941.2,293.7 941.4,291.2 941.7,288.6 942.1,286.7 942.4,286.3 943.1,285.9 943.7,285.5 944.4,286.1 945.0,285.6 945.7,286.2 946.4,285.6 947.0,285.6 947.7,286.0 948.4,285.8 949.0,285.4 949.7,285.7 950.4,285.8 951.0,286.0 951.7,286.2 952.4,285.9 953.0,285.9 953.7,286.0 954.4,286.0 955.0,286.1 955.7,285.6 956.4,285.7 957.0,286.0 957.1,299.3 957.2,309.9 957.3,318.8 957.4,325.7 957.5,337.0 957.7,344.3 957.9,348.7 958.0,352.6 958.4,355.9 958.7,357.7 959.0,358.1 959.7,358.8 960.3,358.7 961.0,359.2 961.7,358.8 962.3,358.9 963.0,359.0 963.7,358.7 964.3,358.7 965.0,359.3 965.7,359.1 966.3,359.1 967.0,359.2 967.7,359.3 968.3,359.1 969.0,359.2 969.7,358.8 970.3,359.0 971.0,359.3 971.7,359.1 972.3,359.0 973.0,359.1 973.6,359.2 973.7,346.6 973.8,336.3 973.9,327.1 974.0,320.3 974.1,310.5 974.3,303.0 974.5,298.2 974.6,295.4 975.0,292.3 975.3,290.4 975.6,289.8 976.3,289.5 977.0,289.1 977.6,289.5 978.3,288.8 979.0,289.0 979.6,289.0 980.3,288.8 981.0,289.0 981.6,289.3 982.3,289.3 983.0,289.4 983.6,289.5 984.3,288.9 985.0,288.9 985.6,289.3 986.3,289.4 987.0,289.0 987.6,288.8 988.3,288.8 988.9,289.4 989.6,288.9 990.3,288.9 990.4,294.7 990.4,299.8 990.5,303.8 990.6,306.4 990.8,311.6 990.9,314.7 991.1,316.7 991.3,318.3 991.6,319.5 991.9,320.7 992.3,321.1 992.9,320.9 993.6,320.9 994.3,320.8 994.9,320.9 995.6,320.7 996.3,320.7 996.9,321.0 997.6,321.0 998.3,321.3 998.9,321.2 999.6,321.0 1000.3,321.4 1000.9,320.9 1001.6,321.3 1002.3,321.1 1002.9,320.7 1003.6,321.4 1004.2,321.4 1004.9,321.1 1005.6,321.3 1006.2,320.9 1006.9,321.4 1007.0,322.0 1007.1,328.9 1007.2,330.1 1007.2,334.1 1007.4,337.5 1007.6,336.4 1007.7,343.0 1007.9,342.2 1008.2,343.9 1008.6,346.8 1008.9,343.6 1009.6,343.6 1010.2,343.3 1010.9,343.3 1011.6,343.4 1012.2,343.3 1012.9,343.3 1013.6,343.6 1014.2,343.4 1014.9,344.0 1015.6,343.5 1016.2,343.6 1016.9,343.8 1017.6,343.6 1018.2,343.3 1018.9,343.7 1019.5,343.5 1020.2,343.8 1020.9,343.8 1021.5,343.3 1022.2,344.0 1022.9,343.9 1023.5,343.5 1023.6,344.2 1023.7,344.9 1023.8,344.7 1023.9,345.2 1024.0,345.4 1024.2,345.8 1024.4,345.9 1024.5,346.0 1024.9,346.3 1025.2,346.6 1025.5,346.5 1026.2,346.0 1026.9,346.3 1027.5,346.6 1028.2,346.0 1028.9,346.5 1029.5,346.6 1030.2,346.3 1030.9,346.5 1031.5,346.3 1032.2,346.3 1032.9,346.5 1033.5,346.3 1034.2,346.6 1034.8,346.3 1035.5,346.2 1036.2,346.6 1036.8,346.4 1037.5,346.7 1038.2,346.4 1038.8,346.0 1039.5,346.3 1040.2,346.1 1040.3,348.0 1040.3,345.7 1040.4,346.3 1040.5,349.0 1040.7,347.6 1040.8,350.1 1041.0,350.9 1041.2,350.7 1041.5,350.9 1041.8,352.8 1042.2,352.7 1042.8,353.2 1043.5,354.6 1044.2,354.3 1044.8,356.1 1045.5,356.5 1046.2,356.5 1046.8,359.2 1047.5,356.8 1048.2,360.7 1048.8,360.8 1049.5,358.2 1050.1,358.2 1050.8,360.6 1051.5,360.3 1052.1,359.3 1052.8,362.2 1053.5,359.1 1054.1,360.1 1054.8,359.5 1055.5,361.7 1056.1,359.7 1056.8,358.8" fill="none" stroke="#d62728" stroke-width="1.4" stroke-linejoin="round"/>
<polyline points="890.5,337.4 890.6,332.8 890.7,328.3 890.7,325.0 890.8,321.9 891.0,317.4 891.2,314.6 891.3,313.3 891.5,311.9 891.8,310.0 892.2,309.5 892.5,309.4 893.2,309.1 893.8,309.3 894.5,308.8 895.2,309.1 895.8,308.8 896.5,309.0 897.2,309.4 897.8,309.2 898.5,309.3 899.1,308.8 899.8,309.0 900.5,309.4 901.1,309.3 901.8,309.2 902.5,309.1 903.1,309.0 903.8,309.1 904.5,309.2 905.1,309.4 905.8,309.0 906.5,309.2 907.1,309.4 907.2,319.7 907.3,328.0 907.4,335.8 907.5,341.5 907.6,349.9 907.8,355.9 908.0,359.8 908.1,362.3 908.5,365.4 908.8,366.5 909.1,367.1 909.8,367.2 910.5,367.2 911.1,367.9 911.8,367.6 912.5,367.4 913.1,367.3 913.8,367.4 914.4,367.5 915.1,367.5 915.8,367.7 916.4,367.7 917.1,367.4 917.8,367.3 918.4,367.3 919.1,367.5 919.8,367.7 920.4,367.4 921.1,367.4 921.8,367.6 922.4,367.5 923.1,367.7 923.8,367.6 923.8,369.8 923.9,371.8 924.0,373.1 924.1,374.3 924.3,375.6 924.4,377.2 924.6,378.0 924.8,378.6 925.1,379.3 925.4,379.4 925.8,379.7 926.4,379.9 927.1,379.3 927.8,379.6 928.4,379.6 929.1,379.5 929.7,379.7 930.4,379.8 931.1,379.9 931.7,379.7 932.4,379.7 933.1,379.4 933.7,379.5 934.4,379.3 935.1,379.7 935.7,379.3 936.4,379.5 937.1,379.8 937.7,379.8 938.4,379.5 939.1,379.2 939.7,379.7 940.4,379.4 940.5,369.4 940.6,360.7 940.6,354.3 940.7,348.4 940.9,339.8 941.1,334.6 941.2,330.9 941.4,328.5 941.7,325.6 942.1,324.2 942.4,323.4 943.1,323.3 943.7,323.1 944.4,323.2 945.0,323.0 945.7,322.8 946.4,322.9 947.0,323.2 947.7,322.9 948.4,322.7 949.0,323.0 949.7,323.3 950.4,322.8 951.0,322.8 951.7,323.1 952.4,323.3 953.0,323.2 953.7,323.0 954.4,322.8 955.0,322.9 955.7,322.8 956.4,323.2 957.0,323.2 957.1,318.5 957.2,315.0 957.3,312.3 957.4,309.7 957.5,306.4 957.7,304.2 957.9,302.4 958.0,301.6 958.4,300.0 958.7,299.6 959.0,299.3 959.7,299.1 960.3,299.3 961.0,299.1 961.7,299.4 962.3,298.8 963.0,299.1 963.7,298.8 964.3,299.4 965.0,299.0 965.7,299.0 966.3,299.2 967.0,299.4 967.7,299.3 968.3,299.3 969.0,298.9 969.7,299.4 970.3,298.9 971.0,299.2 971.7,299.1 972.3,299.0 973.0,299.1 973.6,299.0 973.7,300.7 973.8,302.3 973.9,303.1 974.0,304.4 974.1,305.5 974.3,306.4 974.5,307.0 974.6,307.7 975.0,307.8 975.3,307.9 975.6,308.4 976.3,308.5 977.0,308.4 977.6,308.1 978.3,308.7 979.0,308.7 979.6,308.4 980.3,308.3 981.0,308.2 981.6,308.5 982.3,308.1 983.0,308.6 983.6,308.2 984.3,308.7 985.0,308.7 985.6,308.7 986.3,308.7 987.0,308.4 987.6,308.4 988.3,308.6 988.9,308.1 989.6,308.5 990.3,308.6 990.4,306.1 990.4,303.6 990.5,301.8 990.6,300.9 990.8,299.0 990.9,297.1 991.1,296.5 991.3,295.4 991.6,295.0 991.9,294.6 992.3,294.7 992.9,294.3 993.6,294.5 994.3,294.6 994.9,294.2 995.6,294.7 996.3,294.3 996.9,294.7 997.6,294.3 998.3,294.5 998.9,294.2 999.6,294.7 1000.3,294.4 1000.9,294.5 1001.6,294.2 1002.3,294.1 1002.9,294.4 1003.6,294.6 1004.2,294.6 1004.9,294.6 1005.6,294.5 1006.2,294.6 1006.9,294.6 1007.0,301.4 1007.1,307.3 1007.2,312.3 1007.2,315.7 1007.4,322.1 1007.6,325.7 1007.7,328.6 1007.9,329.9 1008.2,331.8 1008.6,333.1 1008.9,333.2 1009.6,333.4 1010.2,333.8 1010.9,333.8 1011.6,333.7 1012.2,333.4 1012.9,333.9 1013.6,333.6 1014.2,333.6 1014.9,333.7 1015.6,333.6 1016.2,333.4 1016.9,333.9 1017.6,333.4 1018.2,333.8 1018.9,333.5 1019.5,333.4 1020.2,333.9 1020.9,333.4 1021.5,333.4 1022.2,333.8 1022.9,334.0 1023.5,333.9 1023.6,341.7 1023.7,349.1 1023.8,354.1 1023.9,359.2 1024.0,365.6 1024.2,370.6 1024.4,373.6 1024.5,375.3 1024.9,378.0 1025.2,378.8 1025.5,378.9 1026.2,379.3 1026.9,379.3 1027.5,379.2 1028.2,379.9 1028.9,379.7 1029.5,379.4 1030.2,379.4 1030.9,379.9 1031.5,379.6 1032.2,379.7 1032.9,379.6 1033.5,379.8 1034.2,379.9 1034.8,379.2 1035.5,379.7 1036.2,379.3 1036.8,379.8 1037.5,379.6 1038.2,379.8 1038.8,379.6 1039.5,379.8 1040.2,379.4 1040.3,365.1 1040.3,352.7 1040.4,343.0 1040.5,335.1 1040.7,323.0 1040.8,314.8 1041.0,309.1 1041.2,305.9 1041.5,301.9 1041.8,299.6 1042.2,298.8 1042.8,298.4 1043.5,298.6 1044.2,298.7 1044.8,298.6 1045.5,298.7 1046.2,298.7 1046.8,298.4 1047.5,298.5 1048.2,298.4 1048.8,298.5 1049.5,298.8 1050.1,298.3 1050.8,298.3 1051.5,298.4 1052.1,298.4 1052.8,298.3 1053.5,298.1 1054.1,298.2 1054.8,298.3 1055.5,298.5 1056.1,298.6 1056.8,298.5" fill="none" stroke="#2ca02c" stroke-width="1.4" stroke-linejoin="round"/>
<polyline points="890.5,293.3 891.0,298.1 891.5,299.7 892.0,300.2 892.5,300.7 893.0,299.9 893.5,300.9 894.0,300.3 894.5,300.0 895.0,300.7 895.5,300.3 896.0,300.6 896.5,300.7 897.0,300.8 897.5,300.8 898.0,300.1 898.5,300.1 899.0,300.0 899.5,300.9 900.0,300.2 900.5,300.6 901.0,300.3 901.5,300.4 902.0,300.6 902.5,299.9 903.0,301.0 903.5,300.2 904.0,300.1 904.5,300.4 905.0,300.3 905.5,299.9 906.0,300.7 906.5,300.3 907.0,300.2 907.5,316.2 908.0,316.9 908.5,317.8 909.0,317.9 909.5,317.9 910.0,317.9 910.5,318.3 911.0,317.9 911.5,317.9 912.0,318.2 912.5,317.7 913.0,318.0 913.4,317.2 913.9,317.6 914.4,317.3 914.9,317.4 915.4,317.4 915.9,317.6 916.4,317.6 916.9,316.7 917.4,317.1 917.9,317.0 918.4,317.0 918.9,316.6 919.4,317.2 919.9,317.2 920.4,316.4 920.9,316.8 921.4,316.5 921.9,316.3 922.4,316.2 922.9,316.2 923.4,317.0 923.9,316.6 924.4,316.1 924.9,316.1 925.4,316.8 925.9,316.8 926.4,316.6 926.9,316.8 927.4,316.5 927.9,316.0 928.4,316.2 928.9,316.3 929.4,316.7 929.9,316.3 930.4,315.6 930.9,315.9 931.4,316.2 931.9,316.1 932.4,315.8 932.9,315.8 933.4,316.4 933.9,315.9 934.4,316.2 934.9,316.0 935.4,316.3 935.9,316.1 936.4,316.2 936.9,316.1 937.4,316.5 937.9,316.3 938.4,315.9 938.9,316.4 939.4,316.3 939.9,315.7 940.4,316.2 940.9,316.1 941.4,316.2 941.9,315.5 942.4,316.3 942.9,315.7 943.4,315.5 943.9,316.2 944.4,315.9 944.9,315.5 945.4,315.7 945.9,316.0 946.4,316.3 946.9,315.9 947.4,316.0 947.9,315.6 948.4,316.0 948.9,315.9 949.4,315.7 949.9,315.5 950.4,316.0 950.9,315.9 951.4,315.7 951.9,315.3 952.4,316.1 952.9,315.3 953.4,315.6 953.9,315.9 954.4,315.6 954.9,316.0 955.4,316.2 955.9,315.5 956.4,315.9 956.9,315.7 957.4,315.8 957.9,315.3 958.4,315.5 958.8,316.3 959.3,315.7 959.8,315.8 960.3,315.8 960.8,315.4 961.3,315.8 961.8,315.8 962.3,315.3 962.8,315.8 963.3,315.8 963.8,315.7 964.3,315.4 964.8,315.6 965.3,315.5 965.8,315.9 966.3,316.2 966.8,315.6 967.3,315.7 967.8,315.5 968.3,315.5 968.8,316.1 969.3,316.0 969.8,316.2 970.3,315.4 970.8,316.2 971.3,316.2 971.8,315.5 972.3,315.7 972.8,316.2 973.3,315.5 973.8,315.5 974.3,315.8 974.8,316.2 975.3,315.5 975.8,315.8 976.3,315.6 976.8,315.2 977.3,315.4 977.8,315.3 978.3,316.1 978.8,315.9 979.3,315.7 979.8,316.3 980.3,315.2 980.8,316.0 981.3,316.0 981.8,315.9 982.3,316.0 982.8,315.3 983.3,315.7 983.8,315.7 984.3,315.8 984.8,316.2 985.3,315.9 985.8,315.3 986.3,315.4 986.8,315.3 987.3,316.0 987.8,316.0 988.3,316.2 988.8,315.7 989.3,315.9 989.8,315.8 990.3,315.7 990.8,315.6 991.3,315.9 991.8,315.4 992.3,316.0 992.8,315.3 993.3,315.7 993.8,316.2 994.3,315.9 994.8,315.7 995.3,315.8 995.8,315.7 996.3,315.9 996.8,316.0 997.3,315.4 997.8,315.9 998.3,315.5 998.8,315.4 999.3,315.6 999.8,315.8 1000.3,315.3 1000.8,315.8 1001.3,315.3 1001.8,316.2 1002.3,315.8 1002.8,315.6 1003.3,316.2 1003.8,315.3 1004.2,316.2 1004.7,315.6 1005.2,316.1 1005.7,315.3 1006.2,315.7 1006.7,315.4 1007.2,315.7 1007.7,315.5 1008.2,315.5 1008.7,315.9 1009.2,316.0 1009.7,315.4 1010.2,316.1 1010.7,315.3 1011.2,316.0 1011.7,316.2 1012.2,316.2 1012.7,315.4 1013.2,315.2 1013.7,315.8 1014.2,315.6 1014.7,316.0 1015.2,315.3 1015.7,315.5 1016.2,316.1 1016.7,316.2 1017.2,315.5 1017.7,316.2 1018.2,315.4 1018.7,315.9 1019.2,316.0 1019.7,315.6 1020.2,315.9 1020.7,315.7 1021.2,316.1 1021.7,315.3 1022.2,315.9 1022.7,315.4 1023.2,316.1 1023.7,315.4 1024.2,315.2 1024.7,315.8 1025.2,316.2 1025.7,315.9 1026.2,315.6 1026.7,316.0 1027.2,315.7 1027.7,316.2 1028.2,315.8 1028.7,315.5 1029.2,315.8 1029.7,315.5 1030.2,316.1 1030.7,315.4 1031.2,316.1 1031.7,315.3 1032.2,315.2 1032.7,315.3 1033.2,315.7 1033.7,315.9 1034.2,315.9 1034.7,315.5 1035.2,315.7 1035.7,315.3 1036.2,316.2 1036.7,315.7 1037.2,315.3 1037.7,315.6 1038.2,315.7 1038.7,316.2 1039.2,316.1 1039.7,316.0 1040.2,315.3 1040.7,315.4 1041.2,316.0 1041.7,315.3 1042.2,316.2 1042.7,315.6 1043.2,315.2 1043.7,315.9 1044.2,315.3 1044.7,315.6 1045.2,316.2 1045.7,315.9 1046.2,315.8 1046.7,316.0 1047.2,315.5 1047.7,316.1 1048.2,315.4 1048.7,315.9 1049.2,316.2 1049.6,315.7 1050.1,316.2 1050.6,315.7 1051.1,315.4 1051.6,315.6 1052.1,315.8 1052.6,316.2 1053.1,315.7 1053.6,316.2 1054.1,315.6 1054.6,316.1 1055.1,315.6 1055.6,315.9 1056.1,315.9 1056.6,315.6" fill="none" stroke="#ff7f0e" stroke-width="1.3"/>
<polyline points="890.5,322.6 891.0,303.3 891.5,295.6 892.0,293.4 892.5,292.1 893.0,291.7 893.5,291.9 894.0,292.1 894.5,292.1 895.0,291.5 895.5,292.1 896.0,291.8 896.5,291.8 897.0,292.1 897.5,291.8 898.0,292.1 898.5,291.8 899.0,291.8 899.5,291.9 900.0,292.0 900.5,291.9 901.0,292.0 901.5,292.1 902.0,292.0 902.5,291.5 903.0,291.8 903.5,291.5 904.0,292.2 904.5,291.4 905.0,291.8 905.5,291.6 906.0,291.7 906.5,291.6 907.0,292.0 907.5,306.7 908.0,308.4 908.5,309.4 909.0,310.6 909.5,311.3 910.0,312.1 910.5,313.1 911.0,313.3 911.5,314.7 912.0,314.9 912.5,315.8 913.0,316.1 913.4,316.5 913.9,317.0 914.4,318.0 914.9,318.2 915.4,318.3 915.9,318.4 916.4,319.5 916.9,319.3 917.4,319.5 917.9,319.7 918.4,320.3 918.9,320.2 919.4,320.7 919.9,320.5 920.4,321.4 920.9,320.9 921.4,321.4 921.9,321.6 922.4,322.0 922.9,322.0 923.4,321.7 923.9,321.8 924.4,322.4 924.9,322.3 925.4,322.6 925.9,322.6 926.4,322.6 926.9,322.6 927.4,322.2 927.9,322.2 928.4,322.4 928.9,322.7 929.4,322.8 929.9,322.6 930.4,322.5 930.9,322.7 931.4,322.8 931.9,323.2 932.4,322.9 932.9,322.7 933.4,322.8 933.9,323.4 934.4,322.9 934.9,323.2 935.4,323.4 935.9,322.8 936.4,323.0 936.9,323.0 937.4,323.5 937.9,322.9 938.4,322.9 938.9,322.9 939.4,323.0 939.9,323.0 940.4,323.0 940.9,323.2 941.4,323.3 941.9,323.0 942.4,323.1 942.9,323.0 943.4,323.5 943.9,322.9 944.4,323.3 944.9,323.0 945.4,323.6 945.9,322.9 946.4,323.1 946.9,323.5 947.4,323.1 947.9,323.5 948.4,323.6 948.9,323.4 949.4,323.6 949.9,323.4 950.4,323.0 950.9,323.2 951.4,323.2 951.9,323.4 952.4,323.1 952.9,323.1 953.4,323.2 953.9,323.0 954.4,323.1 954.9,323.4 955.4,323.7 955.9,323.2 956.4,323.1 956.9,323.5 957.4,323.3 957.9,323.1 958.4,323.1 958.8,323.8 959.3,323.4 959.8,323.8 960.3,323.7 960.8,323.1 961.3,323.4 961.8,323.3 962.3,323.4 962.8,323.5 963.3,323.6 963.8,323.5 964.3,323.1 964.8,323.3 965.3,323.5 965.8,323.7 966.3,323.6 966.8,323.2 967.3,323.4 967.8,323.2 968.3,323.1 968.8,323.7 969.3,323.2 969.8,323.7 970.3,323.1 970.8,323.6 971.3,323.6 971.8,323.0 972.3,323.5 972.8,323.6 973.3,323.1 973.8,323.3 974.3,323.1 974.8,323.5 975.3,323.4 975.8,323.0 976.3,323.4 976.8,323.0 977.3,323.6 977.8,323.1 978.3,323.6 978.8,323.4 979.3,323.8 979.8,323.6 980.3,323.0 980.8,323.4 981.3,323.1 981.8,323.6 982.3,323.5 982.8,323.7 983.3,323.3 983.8,323.1 984.3,323.4 984.8,323.5 985.3,323.0 985.8,323.1 986.3,323.2 986.8,323.7 987.3,323.3 987.8,323.4 988.3,323.0 988.8,323.5 989.3,323.2 989.8,323.3 990.3,323.5 990.8,323.4 991.3,323.2 991.8,323.0 992.3,323.4 992.8,323.5 993.3,323.0 993.8,323.7 994.3,323.1 994.8,323.2 995.3,323.3 995.8,323.4 996.3,323.2 996.8,323.1 997.3,323.2 997.8,323.2 998.3,323.7 998.8,323.5 999.3,323.7 999.8,323.0 1000.3,323.1 1000.8,323.7 1001.3,323.3 1001.8,323.3 1002.3,323.7 1002.8,323.5 1003.3,323.2 1003.8,323.3 1004.2,323.5 1004.7,323.2 1005.2,323.5 1005.7,323.3 1006.2,323.4 1006.7,323.0 1007.2,323.3 1007.7,323.1 1008.2,323.2 1008.7,323.5 1009.2,323.0 1009.7,323.2 1010.2,323.2 1010.7,323.6 1011.2,323.6 1011.7,323.3 1012.2,323.1 1012.7,323.1 1013.2,323.5 1013.7,323.7 1014.2,323.4 1014.7,323.1 1015.2,323.6 1015.7,323.2 1016.2,323.6 1016.7,323.5 1017.2,323.7 1017.7,323.5 1018.2,323.5 1018.7,323.0 1019.2,323.0 1019.7,323.6 1020.2,323.5 1020.7,323.0 1021.2,323.6 1021.7,323.5 1022.2,323.4 1022.7,323.7 1023.2,323.6 1023.7,323.5 1024.2,323.5 1024.7,323.0 1025.2,323.6 1025.7,323.6 1026.2,323.0 1026.7,323.4 1027.2,323.1 1027.7,323.3 1028.2,323.2 1028.7,323.5 1029.2,323.7 1029.7,323.2 1030.2,323.4 1030.7,323.3 1031.2,323.2 1031.7,323.2 1032.2,323.6 1032.7,323.5 1033.2,323.0 1033.7,323.3 1034.2,323.5 1034.7,323.3 1035.2,323.6 1035.7,323.2 1036.2,323.7 1036.7,323.1 1037.2,323.3 1037.7,323.5 1038.2,323.0 1038.7,323.6 1039.2,323.6 1039.7,323.7 1040.2,323.3 1040.7,323.2 1041.2,323.2 1041.7,323.4 1042.2,323.1 1042.7,323.7 1043.2,323.5 1043.7,323.3 1044.2,323.0 1044.7,323.3 1045.2,323.2 1045.7,323.2 1046.2,323.5 1046.7,323.0 1047.2,323.2 1047.7,323.5 1048.2,323.5 1048.7,323.1 1049.2,323.5 1049.6,323.6 1050.1,323.1 1050.6,323.3 1051.1,323.4 1051.6,323.2 1052.1,323.1 1052.6,323.7 1053.1,323.5 1053.6,323.7 1054.1,323.4 1054.6,323.4 1055.1,323.1 1055.6,323.2 1056.1,323.3 1056.6,323.4" fill="none" stroke="#9467bd" stroke-width="1.3"/>
<polyline points="890.5,301.1 907.1,301.1 907.1,277.2 923.8,277.2 923.8,274.5 940.4,274.5 940.4,296.4 957.0,296.4 957.0,323.7 973.6,323.7 973.6,301.1 990.3,301.1 990.3,321.7 1006.9,321.7 1006.9,287.8 1023.5,287.8 1023.5,274.5 1040.2,274.5 1040.2,323.7 1056.8,323.7" fill="none" stroke="#7f7f7f" stroke-width="1.1"/>
<polyline points="890.5,287.8 907.1,287.8 907.1,336.3 923.8,336.3 923.8,339.0 940.4,339.0 940.4,284.5 957.0,284.5 957.0,323.7 973.6,323.7 973.6,289.1 990.3,289.1 990.3,307.7 1006.9,307.7 1006.9,333.7 1023.5,333.7 1023.5,339.0 1040.2,339.0 1040.2,323.7 1056.8,323.7" fill="none" stroke="#8c564b" stroke-width="1.1"/>
<circle cx="890.5" cy="331.7" r="2.1" fill="#d62728"/>
<circle cx="890.5" cy="337.7" r="2.1" fill="#2ca02c"/>
<polygon points="888.3,295.7 892.7,295.7 890.5,291.5" fill="#ff7f0e"/>
<path d="M888.8,320.7l3.4,3.4M888.8,324.1l3.4,-3.4" stroke="#9467bd" stroke-width="0.9"/>
<polygon points="888.5,298.7 888.5,303.5 892.9,301.1" fill="#7f7f7f"/>
<path d="M888.7,287.8h3.6M890.5,286.0v3.6" stroke="#8c564b" stroke-width="0.9"/>
<circle cx="898.8" cy="288.5" r="2.1" fill="#d62728"/>
<circle cx="898.8" cy="309.1" r="2.1" fill="#2ca02c"/>
<polygon points="896.6,302.3 901.0,302.3 898.8,298.1" fill="#ff7f0e"/>
<path d="M897.1,290.1l3.4,3.4M897.1,293.5l3.4,-3.4" stroke="#9467bd" stroke-width="0.9"/>
<polygon points="896.8,298.7 896.8,303.5 901.2,301.1" fill="#7f7f7f"/>
<path d="M897.0,287.8h3.6M898.8,286.0v3.6" stroke="#8c564b" stroke-width="0.9"/>
<circle cx="907.1" cy="288.5" r="2.1" fill="#d62728"/>
<circle cx="907.1" cy="309.1" r="2.1" fill="#2ca02c"/>
<polygon points="904.9,317.0 909.3,317.0 907.1,312.8" fill="#ff7f0e"/>
<path d="M905.4,304.4l3.4,3.4M905.4,307.8l3.4,-3.4" stroke="#9467bd" stroke-width="0.9"/>
<polygon points="905.1,274.8 905.1,279.6 909.5,277.2" fill="#7f7f7f"/>
<path d="M905.3,336.3h3.6M907.1,334.5v3.6" stroke="#8c564b" stroke-width="0.9"/>
<circle cx="915.4" cy="335.7" r="2.1" fill="#d62728"/>
<circle cx="915.4" cy="367.6" r="2.1" fill="#2ca02c"/>
<polygon points="913.2,319.3 917.6,319.3 915.4,315.1" fill="#ff7f0e"/>
<path d="M913.7,316.7l3.4,3.4M913.7,320.1l3.4,-3.4" stroke="#9467bd" stroke-width="0.9"/>
<polygon points="913.4,274.8 913.4,279.6 917.8,277.2" fill="#7f7f7f"/>
<path d="M913.6,336.3h3.6M915.4,334.5v3.6" stroke="#8c564b" stroke-width="0.9"/>
<circle cx="923.8" cy="335.7" r="2.1" fill="#d62728"/>
<circle cx="923.8" cy="367.6" r="2.1" fill="#2ca02c"/>
<polygon points="921.6,318.4 926.0,318.4 923.8,314.2" fill="#ff7f0e"/>
<path d="M922.1,320.3l3.4,3.4M922.1,323.7l3.4,-3.4" stroke="#9467bd" stroke-width="0.9"/>
<polygon points="921.8,272.1 921.8,276.9 926.2,274.5" fill="#7f7f7f"/>
<path d="M922.0,339.0h3.6M923.8,337.2v3.6" stroke="#8c564b" stroke-width="0.9"/>
<circle cx="932.1" cy="345.0" r="2.1" fill="#d62728"/>
<circle cx="932.1" cy="379.6" r="2.1" fill="#2ca02c"/>
<polygon points="929.9,318.0 934.3,318.0 932.1,313.8" fill="#ff7f0e"/>
<path d="M930.4,321.3l3.4,3.4M930.4,324.7l3.4,-3.4" stroke="#9467bd" stroke-width="0.9"/>
<polygon points="930.1,272.1 930.1,276.9 934.5,274.5" fill="#7f7f7f"/>
<path d="M930.3,339.0h3.6M932.1,337.2v3.6" stroke="#8c564b" stroke-width="0.9"/>
<circle cx="940.4" cy="345.0" r="2.1" fill="#d62728"/>
<circle cx="940.4" cy="379.6" r="2.1" fill="#2ca02c"/>
<polygon points="938.2,317.8 942.6,317.8 940.4,313.6" fill="#ff7f0e"/>
<path d="M938.7,321.6l3.4,3.4M938.7,325.0l3.4,-3.4" stroke="#9467bd" stroke-width="0.9"/>
<polygon points="938.4,294.0 938.4,298.8 942.8,296.4" fill="#7f7f7f"/>
<path d="M938.6,284.5h3.6M940.4,282.7v3.6" stroke="#8c564b" stroke-width="0.9"/>
<circle cx="948.7" cy="285.8" r="2.1" fill="#d62728"/>
<circle cx="948.7" cy="323.0" r="2.1" fill="#2ca02c"/>
<polygon points="946.5,317.7 950.9,317.7 948.7,313.5" fill="#ff7f0e"/>
<path d="M947.0,321.6l3.4,3.4M947.0,325.0l3.4,-3.4" stroke="#9467bd" stroke-width="0.9"/>
<polygon points="946.7,294.0 946.7,298.8 951.1,296.4" fill="#7f7f7f"/>
<path d="M946.9,284.5h3.6M948.7,282.7v3.6" stroke="#8c564b" stroke-width="0.9"/>
<circle cx="957.0" cy="285.8" r="2.1" fill="#d62728"/>
<circle cx="957.0" cy="323.0" r="2.1" fill="#2ca02c"/>
<polygon points="954.8,317.7 959.2,317.7 957.0,313.5" fill="#ff7f0e"/>
<path d="M955.3,321.7l3.4,3.4M955.3,325.1l3.4,-3.4" stroke="#9467bd" stroke-width="0.9"/>
<polygon points="955.0,321.3 955.0,326.1 959.4,323.7" fill="#7f7f7f"/>
<path d="M955.2,323.7h3.6M957.0,321.9v3.6" stroke="#8c564b" stroke-width="0.9"/>
<circle cx="965.3" cy="358.9" r="2.1" fill="#d62728"/>
<circle cx="965.3" cy="299.1" r="2.1" fill="#2ca02c"/>
<polygon points="963.1,317.6 967.5,317.6 965.3,313.4" fill="#ff7f0e"/>
<path d="M963.6,321.7l3.4,3.4M963.6,325.1l3.4,-3.4" stroke="#9467bd" stroke-width="0.9"/>
<polygon points="963.3,321.3 963.3,326.1 967.7,323.7" fill="#7f7f7f"/>
<path d="M963.5,323.7h3.6M965.3,321.9v3.6" stroke="#8c564b" stroke-width="0.9"/>
<circle cx="973.6" cy="358.9" r="2.1" fill="#d62728"/>
<circle cx="973.6" cy="299.1" r="2.1" fill="#2ca02c"/>
<polygon points="971.4,317.6 975.9,317.6 973.6,313.4" fill="#ff7f0e"/>
<path d="M971.9,321.7l3.4,3.4M971.9,325.1l3.4,-3.4" stroke="#9467bd" stroke-width="0.9"/>
<polygon points="971.6,298.7 971.6,303.5 976.0,301.1" fill="#7f7f7f"/>
<path d="M971.9,289.1h3.6M973.6,287.3v3.6" stroke="#8c564b" stroke-width="0.9"/>
<circle cx="982.0" cy="289.1" r="2.1" fill="#d62728"/>
<circle cx="982.0" cy="308.4" r="2.1" fill="#2ca02c"/>
<polygon points="979.8,317.6 984.2,317.6 982.0,313.4" fill="#ff7f0e"/>
<path d="M980.3,321.7l3.4,3.4M980.3,325.1l3.4,-3.4" stroke="#9467bd" stroke-width="0.9"/>
<polygon points="980.0,298.7 980.0,303.5 984.4,301.1" fill="#7f7f7f"/>
<path d="M980.2,289.1h3.6M982.0,287.3v3.6" stroke="#8c564b" stroke-width="0.9"/>
<circle cx="990.3" cy="289.1" r="2.1" fill="#d62728"/>
<circle cx="990.3" cy="308.4" r="2.1" fill="#2ca02c"/>
<polygon points="988.1,317.6 992.5,317.6 990.3,313.4" fill="#ff7f0e"/>
<path d="M988.6,321.7l3.4,3.4M988.6,325.1l3.4,-3.4" stroke="#9467bd" stroke-width="0.9"/>
<polygon points="988.3,319.3 988.3,324.1 992.7,321.7" fill="#7f7f7f"/>
<path d="M988.5,307.7h3.6M990.3,305.9v3.6" stroke="#8c564b" stroke-width="0.9"/>
<circle cx="998.6" cy="321.0" r="2.1" fill="#d62728"/>
<circle cx="998.6" cy="294.4" r="2.1" fill="#2ca02c"/>
<polygon points="996.4,317.6 1000.8,317.6 998.6,313.4" fill="#ff7f0e"/>
<path d="M996.9,321.7l3.4,3.4M996.9,325.1l3.4,-3.4" stroke="#9467bd" stroke-width="0.9"/>
<polygon points="996.6,319.3 996.6,324.1 1001.0,321.7" fill="#7f7f7f"/>
<path d="M996.8,307.7h3.6M998.6,305.9v3.6" stroke="#8c564b" stroke-width="0.9"/>
<circle cx="1006.9" cy="321.0" r="2.1" fill="#d62728"/>
<circle cx="1006.9" cy="294.4" r="2.1" fill="#2ca02c"/>
<polygon points="1004.7,317.6 1009.1,317.6 1006.9,313.4" fill="#ff7f0e"/>
<path d="M1005.2,321.7l3.4,3.4M1005.2,325.1l3.4,-3.4" stroke="#9467bd" stroke-width="0.9"/>
<polygon points="1004.9,285.4 1004.9,290.2 1009.3,287.8" fill="#7f7f7f"/>
<path d="M1005.1,333.7h3.6M1006.9,331.9v3.6" stroke="#8c564b" stroke-width="0.9"/>
<circle cx="1015.2" cy="343.7" r="2.1" fill="#d62728"/>
<circle cx="1015.2" cy="333.7" r="2.1" fill="#2ca02c"/>
<polygon points="1013.0,317.6 1017.4,317.6 1015.2,313.4" fill="#ff7f0e"/>
<path d="M1013.5,321.7l3.4,3.4M1013.5,325.1l3.4,-3.4" stroke="#9467bd" stroke-width="0.9"/>
<polygon points="1013.2,285.4 1013.2,290.2 1017.6,287.8" fill="#7f7f7f"/>
<path d="M1013.4,333.7h3.6M1015.2,331.9v3.6" stroke="#8c564b" stroke-width="0.9"/>
<circle cx="1023.5" cy="343.7" r="2.1" fill="#d62728"/>
<circle cx="1023.5" cy="333.7" r="2.1" fill="#2ca02c"/>
<polygon points="1021.3,317.6 1025.7,317.6 1023.5,313.4" fill="#ff7f0e"/>
<path d="M1021.8,321.7l3.4,3.4M1021.8,325.1l3.4,-3.4" stroke="#9467bd" stroke-width="0.9"/>
<polygon points="1021.5,272.1 1021.5,276.9 1025.9,274.5" fill="#7f7f7f"/>
<path d="M1021.7,339.0h3.6M1023.5,337.2v3.6" stroke="#8c564b" stroke-width="0.9"/>
<circle cx="1031.9" cy="346.3" r="2.1" fill="#d62728"/>
<circle cx="1031.9" cy="379.6" r="2.1" fill="#2ca02c"/>
<polygon points="1029.7,317.6 1034.1,317.6 1031.9,313.4" fill="#ff7f0e"/>
<path d="M1030.2,321.7l3.4,3.4M1030.2,325.1l3.4,-3.4" stroke="#9467bd" stroke-width="0.9"/>
<polygon points="1029.9,272.1 1029.9,276.9 1034.3,274.5" fill="#7f7f7f"/>
<path d="M1030.1,339.0h3.6M1031.9,337.2v3.6" stroke="#8c564b" stroke-width="0.9"/>
<circle cx="1040.2" cy="346.3" r="2.1" fill="#d62728"/>
<circle cx="1040.2" cy="379.6" r="2.1" fill="#2ca02c"/>
<polygon points="1038.0,317.6 1042.4,317.6 1040.2,313.4" fill="#ff7f0e"/>
<path d="M1038.5,321.7l3.4,3.4M1038.5,325.1l3.4,-3.4" stroke="#9467bd" stroke-width="0.9"/>
<polygon points="1038.2,321.3 1038.2,326.1 1042.6,323.7" fill="#7f7f7f"/>
<path d="M1038.4,323.7h3.6M1040.2,321.9v3.6" stroke="#8c564b" stroke-width="0.9"/>
<circle cx="1048.5" cy="359.1" r="2.1" fill="#d62728"/>
<circle cx="1048.5" cy="298.4" r="2.1" fill="#2ca02c"/>
<polygon points="1046.3,317.6 1050.7,317.6 1048.5,313.4" fill="#ff7f0e"/>
<path d="M1046.8,321.7l3.4,3.4M1046.8,325.1l3.4,-3.4" stroke="#9467bd" stroke-width="0.9"/>
<polygon points="1046.5,321.3 1046.5,326.1 1050.9,323.7" fill="#7f7f7f"/>
<path d="M1046.7,323.7h3.6M1048.5,321.9v3.6" stroke="#8c564b" stroke-width="0.9"/>
<circle cx="1056.8" cy="360.2" r="2.1" fill="#d62728"/>
<circle cx="1056.8" cy="298.4" r="2.1" fill="#2ca02c"/>
<polygon points="1054.6,317.6 1059.0,317.6 1056.8,313.4" fill="#ff7f0e"/>
<path d="M1055.1,321.7l3.4,3.4M1055.1,325.1l3.4,-3.4" stroke="#9467bd" stroke-width="0.9"/>
<polygon points="1054.8,321.3 1054.8,326.1 1059.2,323.7" fill="#7f7f7f"/>
<path d="M1055.0,323.7h3.6M1056.8,321.9v3.6" stroke="#8c564b" stroke-width="0.9"/>
</svg>
<rect x="844.8" y="418.3" width="219.3" height="61.3" rx="2.5" fill="#eaeaf2" fill-opacity="0.85" stroke="#cfcfd6" stroke-width="0.8"/>
<g font-family='"Liberation Sans", sans-serif' font-size="13.2" fill="#262626">
<line x1="849.8" x2="877.4" y1="428.5" y2="428.5" stroke="#d62728" stroke-width="1.3"/>
<circle cx="863.6" cy="428.5" r="2.2" fill="#d62728"/>
<text x="888.3" y="433.2">ESCPx</text>
<line x1="944" x2="971.6" y1="428.5" y2="428.5" stroke="#2ca02c" stroke-width="1.3"/>
<circle cx="957.8" cy="428.5" r="2.2" fill="#2ca02c"/>
<text x="981.4" y="433.2">ESCPy</text>
<line x1="849.8" x2="877.4" y1="447.4" y2="447.4" stroke="#ff7f0e" stroke-width="1.3"/>
<polygon points="861.1,449.59999999999997 866.1,449.59999999999997 863.6,444.79999999999995" fill="#ff7f0e"/>
<text x="888.3" y="452.1">OSIx</text>
<line x1="944" x2="971.6" y1="447.4" y2="447.4" stroke="#9467bd" stroke-width="1.3"/>
<path d="M956.0,445.59999999999997l3.6,3.6M956.0,449.2l3.6,-3.6" stroke="#9467bd" stroke-width="0.9"/>
<text x="981.4" y="452.1">OSIy</text>
<line x1="849.8" x2="877.4" y1="466.6" y2="466.6" stroke="#7f7f7f" stroke-width="1.3"/>
<polygon points="861.2,463.8 861.2,469.40000000000003 866.4,466.6" fill="#7f7f7f"/>
<text x="888.3" y="471.3">gravity</text>
<line x1="944" x2="971.6" y1="466.6" y2="466.6" stroke="#8c564b" stroke-width="1.3"/>
<path d="M955.8,466.6h4M957.8,464.6v4" stroke="#8c564b" stroke-width="0.9"/>
<text x="981.4" y="471.3">dof_damping</text>
</g>
<g>
<path d="M801,455.8 C791.5,455.8 784.3,462 784.3,469.5 C784.3,474 786.8,477.8 790.6,480.3 L788.8,486.8 L795.6,483 C797.3,483.4 799.1,483.6 801,483.6 C810.5,483.6 817.7,477.4 817.7,469.6 C817.7,462 810.5,455.8 801,455.8 Z" fill="#fff" stroke="#8a8a8a" stroke-width="0.9"/>
<circle cx="795.1" cy="465" r="1.7" fill="#fff" stroke="#8a8a8a" stroke-width="0.8"/>
<circle cx="806.8" cy="465" r="1.7" fill="#fff" stroke="#8a8a8a" stroke-width="0.8"/>
<path d="M816.5,469.6 C808.5,469.6 802.2,475 802.2,481.8 C802.2,488.6 808.5,494 816.5,494 C818,494 819.5,493.8 820.9,493.4 L827.5,496.5 L825.8,490.8 C829,488.6 830.8,485.4 830.8,481.8 C830.8,475 824.5,469.6 816.5,469.6 Z" fill="#fff" stroke="#8a8a8a" stroke-width="0.9"/>
<circle cx="812.1" cy="476.8" r="1.6" fill="#fff" stroke="#8a8a8a" stroke-width="0.8"/>
<circle cx="821.8" cy="476.8" r="1.6" fill="#fff" stroke="#8a8a8a" stroke-width="0.8"/>
</g>
<path d="M846,463.5 L840.5,470.5 M847,470 L840,479 M844,475 L844,488.5 M850,464 L850,469.5 L860,469.5 L860,464 M855,463 L855,469.5 M848.5,473 L861.5,473 M851,476 L851,483 L849,488 M851,476 L857,476 L857,486 M854,479 L854,483 M864,463.5 L861,471 M862,468 L868,468 M867,468 L861,487.5 M862,473 L868,488" fill="none" stroke="#5a5a5a" stroke-opacity="0.75" stroke-width="2.5" stroke-linecap="square" transform="translate(-0.9,0.9)"/>
<path d="M846,463.5 L840.5,470.5 M847,470 L840,479 M844,475 L844,488.5 M850,464 L850,469.5 L860,469.5 L860,464 M855,463 L855,469.5 M848.5,473 L861.5,473 M851,476 L851,483 L849,488 M851,476 L857,476 L857,486 M854,479 L854,483 M864,463.5 L861,471 M862,468 L868,468 M867,468 L861,487.5 M862,473 L868,488" fill="none" stroke="#ffffff" stroke-width="1.9" stroke-linecap="square"/>
<path d="M874,463.5 L868.5,474 M871.5,469 L871.5,488.5 M882,463.5 L884,465.5 M876,467.5 L893.5,467.5 M878.5,471.5 L891,471.5 M878.5,475.5 L891,475.5 M879,479.5 L879,488 M879,479.5 L890.5,479.5 L890.5,488 M879,487 L890.5,487" fill="none" stroke="#5a5a5a" stroke-opacity="0.75" stroke-width="2.5" stroke-linecap="square" transform="translate(-0.9,0.9)"/>
<path d="M874,463.5 L868.5,474 M871.5,469 L871.5,488.5 M882,463.5 L884,465.5 M876,467.5 L893.5,467.5 M878.5,471.5 L891,471.5 M878.5,475.5 L891,475.5 M879,479.5 L879,488 M879,479.5 L890.5,479.5 L890.5,488 M879,487 L890.5,487" fill="none" stroke="#ffffff" stroke-width="1.9" stroke-linecap="square"/>
<path d="M900,463.5 L900,471 M900,463.5 L914.5,463.5 L914.5,471 M900,470.5 L914.5,470.5 M896,475 L920,475 M903,475 L901,480.5 L916,480.5 L916,486 L914,488.5 L908,488" fill="none" stroke="#5a5a5a" stroke-opacity="0.75" stroke-width="2.5" stroke-linecap="square" transform="translate(-0.9,0.9)"/>
<path d="M900,463.5 L900,471 M900,463.5 L914.5,463.5 L914.5,471 M900,470.5 L914.5,470.5 M896,475 L920,475 M903,475 L901,480.5 L916,480.5 L916,486 L914,488.5 L908,488" fill="none" stroke="#ffffff" stroke-width="1.9" stroke-linecap="square"/>
<circle cx="925.3" cy="476" r="1.1" fill="#fff" stroke="#666" stroke-width="0.6"/>
<circle cx="924.5" cy="486" r="1.1" fill="#fff" stroke="#666" stroke-width="0.6"/>
<text x="931.6" y="485.8" font-family='"Liberation Sans", sans-serif' font-size="25" fill="#6a6a6a" fill-opacity="0.8" textLength="113.6" lengthAdjust="spacingAndGlyphs" font-weight="normal">nutquant</text>
<text x="932.6" y="485" font-family='"Liberation Sans", sans-serif' font-size="25" fill="#fff" textLength="113.6" lengthAdjust="spacingAndGlyphs">nutquant</text>
</svg></body></html>
